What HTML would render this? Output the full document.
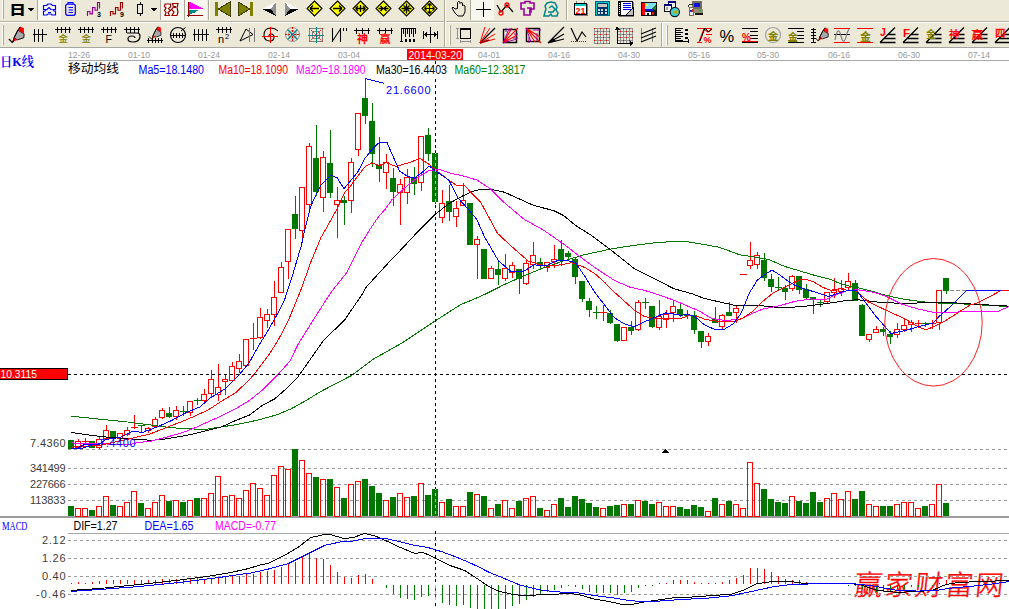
<!DOCTYPE html>
<html lang="zh"><head><meta charset="utf-8"><title>日K线</title>
<style>
html,body{margin:0;padding:0;background:#fff;overflow:hidden}
svg{display:block}
text{white-space:pre}
</style></head><body>
<svg width="1009" height="609" viewBox="0 0 1009 609">
<rect width="1009" height="609" fill="#ffffff"/>
<text x="854" y="595.5" fill="#ff0000" stroke="#ff0000" stroke-width="0.4" font-size="28" font-weight="300" font-family="'Liberation Sans','Noto Sans CJK SC',sans-serif" textLength="149" lengthAdjust="spacing" transform="skewX(-6) translate(62,0)">赢家财富网</text>
<g shape-rendering="crispEdges" fill="none" stroke-width="1">
<rect x="68" y="60" width="941" height="1" fill="#a8a8a8"/>
<line x1="68" y1="449.5" x2="1009" y2="449.5" stroke="#9a9a9a" stroke-dasharray="3 3"/>
<line x1="68" y1="468.5" x2="1009" y2="468.5" stroke="#9a9a9a" stroke-dasharray="3 3"/>
<line x1="68" y1="484.5" x2="1009" y2="484.5" stroke="#9a9a9a" stroke-dasharray="3 3"/>
<line x1="68" y1="500.5" x2="1009" y2="500.5" stroke="#9a9a9a" stroke-dasharray="3 3"/>
<line x1="68" y1="540.5" x2="1009" y2="540.5" stroke="#9a9a9a" stroke-dasharray="3 3"/>
<line x1="68" y1="558.5" x2="1009" y2="558.5" stroke="#9a9a9a" stroke-dasharray="3 3"/>
<line x1="68" y1="576.5" x2="1009" y2="576.5" stroke="#9a9a9a" stroke-dasharray="3 3"/>
<line x1="68" y1="594.5" x2="1009" y2="594.5" stroke="#9a9a9a" stroke-dasharray="3 3"/>
<rect x="0" y="516" width="1009" height="2" fill="#9c9c9c"/>
<rect x="68" y="533" width="941" height="1" fill="#a8a8a8"/>
<rect x="68" y="506" width="6" height="10" fill="#007800"/>
<rect x="75.5" y="508.5" width="5" height="8" stroke="#ff0000"/>
<rect x="82.5" y="508.5" width="5" height="8" stroke="#ff0000"/>
<rect x="89" y="510" width="6" height="6" fill="#007800"/>
<rect x="96.5" y="506.5" width="5" height="10" stroke="#ff0000"/>
<rect x="103.5" y="496.5" width="5" height="20" stroke="#ff0000"/>
<rect x="110" y="505" width="6" height="11" fill="#007800"/>
<rect x="117.5" y="506.5" width="5" height="10" stroke="#ff0000"/>
<rect x="124.5" y="502.5" width="5" height="14" stroke="#ff0000"/>
<rect x="131.5" y="491.5" width="5" height="25" stroke="#ff0000"/>
<rect x="138" y="503" width="6" height="13" fill="#007800"/>
<rect x="145.5" y="508.5" width="5" height="8" stroke="#ff0000"/>
<rect x="152.5" y="502.5" width="5" height="14" stroke="#ff0000"/>
<rect x="159.5" y="495.5" width="5" height="21" stroke="#ff0000"/>
<rect x="166" y="501" width="6" height="15" fill="#007800"/>
<rect x="173.5" y="500.5" width="5" height="16" stroke="#ff0000"/>
<rect x="180" y="502" width="6" height="14" fill="#007800"/>
<rect x="187.5" y="500.5" width="5" height="16" stroke="#ff0000"/>
<rect x="194" y="498" width="6" height="18" fill="#007800"/>
<rect x="201.5" y="498.5" width="5" height="18" stroke="#ff0000"/>
<rect x="208.5" y="493.5" width="5" height="23" stroke="#ff0000"/>
<rect x="215.5" y="476.5" width="5" height="40" stroke="#ff0000"/>
<rect x="222.5" y="496.5" width="5" height="20" stroke="#ff0000"/>
<rect x="229.5" y="495.5" width="5" height="21" stroke="#ff0000"/>
<rect x="236.5" y="498.5" width="5" height="18" stroke="#ff0000"/>
<rect x="243.5" y="490.5" width="5" height="26" stroke="#ff0000"/>
<rect x="250.5" y="483.5" width="5" height="33" stroke="#ff0000"/>
<rect x="257.5" y="488.5" width="5" height="28" stroke="#ff0000"/>
<rect x="264.5" y="495.5" width="5" height="21" stroke="#ff0000"/>
<rect x="271.5" y="475.5" width="5" height="41" stroke="#ff0000"/>
<rect x="278.5" y="466.5" width="5" height="50" stroke="#ff0000"/>
<rect x="285.5" y="469.5" width="5" height="47" stroke="#ff0000"/>
<rect x="292" y="449" width="6" height="67" fill="#007800"/>
<rect x="299.5" y="460.5" width="5" height="56" stroke="#ff0000"/>
<rect x="306.5" y="473.5" width="5" height="43" stroke="#ff0000"/>
<rect x="313" y="477" width="6" height="39" fill="#007800"/>
<rect x="320.5" y="479.5" width="5" height="37" stroke="#ff0000"/>
<rect x="327" y="479" width="6" height="37" fill="#007800"/>
<rect x="334.5" y="487.5" width="5" height="29" stroke="#ff0000"/>
<rect x="341" y="498" width="6" height="18" fill="#007800"/>
<rect x="348.5" y="484.5" width="5" height="32" stroke="#ff0000"/>
<rect x="355.5" y="481.5" width="5" height="35" stroke="#ff0000"/>
<rect x="362" y="479" width="6" height="37" fill="#007800"/>
<rect x="369" y="486" width="6" height="30" fill="#007800"/>
<rect x="376" y="493" width="6" height="23" fill="#007800"/>
<rect x="383.5" y="500.5" width="5" height="16" stroke="#ff0000"/>
<rect x="390" y="497" width="6" height="19" fill="#007800"/>
<rect x="397.5" y="493.5" width="5" height="23" stroke="#ff0000"/>
<rect x="404.5" y="497.5" width="5" height="19" stroke="#ff0000"/>
<rect x="411" y="496" width="6" height="20" fill="#007800"/>
<rect x="418.5" y="483.5" width="5" height="33" stroke="#ff0000"/>
<rect x="425" y="495" width="6" height="21" fill="#007800"/>
<rect x="432" y="489" width="6" height="27" fill="#007800"/>
<rect x="439.5" y="502.5" width="5" height="14" stroke="#ff0000"/>
<rect x="446" y="499" width="6" height="17" fill="#007800"/>
<rect x="453.5" y="506.5" width="5" height="10" stroke="#ff0000"/>
<rect x="460.5" y="506.5" width="5" height="10" stroke="#ff0000"/>
<rect x="467" y="492" width="6" height="24" fill="#007800"/>
<rect x="474.5" y="494.5" width="5" height="22" stroke="#ff0000"/>
<rect x="481" y="496" width="6" height="20" fill="#007800"/>
<rect x="488.5" y="508.5" width="5" height="8" stroke="#ff0000"/>
<rect x="495" y="504" width="6" height="12" fill="#007800"/>
<rect x="502.5" y="500.5" width="5" height="16" stroke="#ff0000"/>
<rect x="509.5" y="508.5" width="5" height="8" stroke="#ff0000"/>
<rect x="516" y="501" width="6" height="15" fill="#007800"/>
<rect x="523.5" y="498.5" width="5" height="18" stroke="#ff0000"/>
<rect x="530.5" y="496.5" width="5" height="20" stroke="#ff0000"/>
<rect x="537" y="508" width="6" height="8" fill="#007800"/>
<rect x="544.5" y="510.5" width="5" height="6" stroke="#ff0000"/>
<rect x="551.5" y="504.5" width="5" height="12" stroke="#ff0000"/>
<rect x="558" y="498" width="6" height="18" fill="#007800"/>
<rect x="565" y="507" width="6" height="9" fill="#007800"/>
<rect x="572" y="496" width="6" height="20" fill="#007800"/>
<rect x="579" y="499" width="6" height="17" fill="#007800"/>
<rect x="586" y="503" width="6" height="13" fill="#007800"/>
<rect x="593" y="507" width="6" height="9" fill="#007800"/>
<rect x="600.5" y="508.5" width="5" height="8" stroke="#ff0000"/>
<rect x="607" y="506" width="6" height="10" fill="#007800"/>
<rect x="614" y="505" width="6" height="11" fill="#007800"/>
<rect x="621.5" y="504.5" width="5" height="12" stroke="#ff0000"/>
<rect x="628" y="504" width="6" height="12" fill="#007800"/>
<rect x="635.5" y="500.5" width="5" height="16" stroke="#ff0000"/>
<rect x="642" y="501" width="6" height="15" fill="#007800"/>
<rect x="649" y="504" width="6" height="12" fill="#007800"/>
<rect x="656.5" y="502.5" width="5" height="14" stroke="#ff0000"/>
<rect x="663.5" y="506.5" width="5" height="10" stroke="#ff0000"/>
<rect x="670.5" y="506.5" width="5" height="10" stroke="#ff0000"/>
<rect x="677" y="507" width="6" height="9" fill="#007800"/>
<rect x="684" y="509" width="6" height="7" fill="#007800"/>
<rect x="691" y="505" width="6" height="11" fill="#007800"/>
<rect x="698" y="507" width="6" height="9" fill="#007800"/>
<rect x="705.5" y="511.5" width="5" height="5" stroke="#ff0000"/>
<rect x="712" y="498" width="6" height="18" fill="#007800"/>
<rect x="719.5" y="504.5" width="5" height="12" stroke="#ff0000"/>
<rect x="726" y="501" width="6" height="15" fill="#007800"/>
<rect x="733.5" y="504.5" width="5" height="12" stroke="#ff0000"/>
<rect x="740.5" y="508.5" width="5" height="8" stroke="#ff0000"/>
<rect x="747.5" y="462.5" width="5" height="54" stroke="#ff0000"/>
<rect x="754.5" y="483.5" width="5" height="33" stroke="#ff0000"/>
<rect x="761" y="489" width="6" height="27" fill="#007800"/>
<rect x="768" y="499" width="6" height="17" fill="#007800"/>
<rect x="775" y="502" width="6" height="14" fill="#007800"/>
<rect x="782" y="503" width="6" height="13" fill="#007800"/>
<rect x="789.5" y="496.5" width="5" height="20" stroke="#ff0000"/>
<rect x="796" y="501" width="6" height="15" fill="#007800"/>
<rect x="803" y="503" width="6" height="13" fill="#007800"/>
<rect x="810" y="492" width="6" height="24" fill="#007800"/>
<rect x="817" y="502" width="6" height="14" fill="#007800"/>
<rect x="824.5" y="498.5" width="5" height="18" stroke="#ff0000"/>
<rect x="831.5" y="493.5" width="5" height="23" stroke="#ff0000"/>
<rect x="838.5" y="499.5" width="5" height="17" stroke="#ff0000"/>
<rect x="845.5" y="491.5" width="5" height="25" stroke="#ff0000"/>
<rect x="852" y="499" width="6" height="17" fill="#007800"/>
<rect x="859" y="491" width="6" height="25" fill="#007800"/>
<rect x="866.5" y="504.5" width="5" height="12" stroke="#ff0000"/>
<rect x="873.5" y="506.5" width="5" height="10" stroke="#ff0000"/>
<rect x="880" y="506" width="6" height="10" fill="#007800"/>
<rect x="887" y="506" width="6" height="10" fill="#007800"/>
<rect x="894.5" y="504.5" width="5" height="12" stroke="#ff0000"/>
<rect x="901.5" y="502.5" width="5" height="14" stroke="#ff0000"/>
<rect x="908.5" y="502.5" width="5" height="14" stroke="#ff0000"/>
<rect x="915.5" y="508.5" width="5" height="8" stroke="#ff0000"/>
<rect x="922" y="506" width="6" height="10" fill="#007800"/>
<rect x="929.5" y="504.5" width="5" height="12" stroke="#ff0000"/>
<rect x="936.5" y="484.5" width="5" height="32" stroke="#ff0000"/>
<rect x="943" y="503" width="6" height="13" fill="#007800"/>
<rect x="68" y="440" width="6" height="9" fill="#007800"/>
<rect x="78" y="439" width="1" height="2" fill="#ff0000"/>
<rect x="78" y="448" width="1" height="1" fill="#ff0000"/>
<rect x="75.5" y="441.5" width="5" height="6" stroke="#ff0000"/>
<rect x="85" y="438" width="1" height="5" fill="#ff0000"/>
<rect x="82" y="441" width="7" height="1" fill="#ff0000"/>
<rect x="89" y="441" width="6" height="7" fill="#007800"/>
<rect x="99" y="437" width="1" height="2" fill="#ff0000"/>
<rect x="99" y="448" width="1" height="1" fill="#ff0000"/>
<rect x="96.5" y="439.5" width="5" height="8" stroke="#ff0000"/>
<rect x="106" y="425" width="1" height="5" fill="#ff0000"/>
<rect x="103.5" y="430.5" width="5" height="8" stroke="#ff0000"/>
<rect x="110" y="431" width="6" height="8" fill="#007800"/>
<rect x="120" y="439" width="1" height="1" fill="#ff0000"/>
<rect x="117.5" y="433.5" width="5" height="5" stroke="#ff0000"/>
<rect x="127" y="427" width="1" height="3" fill="#ff0000"/>
<rect x="127" y="435" width="1" height="1" fill="#ff0000"/>
<rect x="124.5" y="430.5" width="5" height="4" stroke="#ff0000"/>
<rect x="134" y="415" width="1" height="14" fill="#ff0000"/>
<rect x="131" y="427" width="7" height="1" fill="#ff0000"/>
<rect x="141" y="425" width="1" height="7" fill="#007800"/>
<rect x="138" y="425" width="7" height="1" fill="#007800"/>
<rect x="148" y="427" width="1" height="1" fill="#ff0000"/>
<rect x="148" y="431" width="1" height="2" fill="#ff0000"/>
<rect x="145.5" y="428.5" width="5" height="2" stroke="#ff0000"/>
<rect x="155" y="417" width="1" height="2" fill="#ff0000"/>
<rect x="152.5" y="419.5" width="5" height="7" stroke="#ff0000"/>
<rect x="162" y="408" width="1" height="2" fill="#ff0000"/>
<rect x="162" y="418" width="1" height="1" fill="#ff0000"/>
<rect x="159.5" y="410.5" width="5" height="7" stroke="#ff0000"/>
<rect x="169" y="407" width="1" height="11" fill="#007800"/>
<rect x="166" y="413" width="6" height="4" fill="#007800"/>
<rect x="176" y="406" width="1" height="4" fill="#ff0000"/>
<rect x="176" y="417" width="1" height="3" fill="#ff0000"/>
<rect x="173.5" y="410.5" width="5" height="6" stroke="#ff0000"/>
<rect x="183" y="406" width="1" height="10" fill="#007800"/>
<rect x="180" y="411" width="7" height="1" fill="#007800"/>
<rect x="190" y="413" width="1" height="3" fill="#ff0000"/>
<rect x="187.5" y="401.5" width="5" height="11" stroke="#ff0000"/>
<rect x="197" y="398" width="1" height="7" fill="#007800"/>
<rect x="194" y="400" width="7" height="1" fill="#007800"/>
<rect x="204" y="389" width="1" height="5" fill="#ff0000"/>
<rect x="204" y="401" width="1" height="2" fill="#ff0000"/>
<rect x="201.5" y="394.5" width="5" height="6" stroke="#ff0000"/>
<rect x="211" y="370" width="1" height="9" fill="#ff0000"/>
<rect x="211" y="394" width="1" height="3" fill="#ff0000"/>
<rect x="208.5" y="379.5" width="5" height="14" stroke="#ff0000"/>
<rect x="218" y="364" width="1" height="23" fill="#ff0000"/>
<rect x="218" y="395" width="1" height="6" fill="#ff0000"/>
<rect x="215.5" y="387.5" width="5" height="7" stroke="#ff0000"/>
<rect x="225" y="375" width="1" height="4" fill="#ff0000"/>
<rect x="225" y="382" width="1" height="13" fill="#ff0000"/>
<rect x="222.5" y="379.5" width="5" height="2" stroke="#ff0000"/>
<rect x="232" y="362" width="1" height="4" fill="#ff0000"/>
<rect x="232" y="381" width="1" height="1" fill="#ff0000"/>
<rect x="229.5" y="366.5" width="5" height="14" stroke="#ff0000"/>
<rect x="239" y="354" width="1" height="7" fill="#ff0000"/>
<rect x="239" y="369" width="1" height="4" fill="#ff0000"/>
<rect x="236.5" y="361.5" width="5" height="7" stroke="#ff0000"/>
<rect x="243.5" y="339.5" width="5" height="26" stroke="#ff0000"/>
<rect x="253" y="323" width="1" height="27" fill="#ff0000"/>
<rect x="250" y="338" width="7" height="1" fill="#ff0000"/>
<rect x="260" y="308" width="1" height="9" fill="#ff0000"/>
<rect x="260" y="338" width="1" height="1" fill="#ff0000"/>
<rect x="257.5" y="317.5" width="5" height="20" stroke="#ff0000"/>
<rect x="267" y="309" width="1" height="5" fill="#ff0000"/>
<rect x="267" y="321" width="1" height="7" fill="#ff0000"/>
<rect x="264.5" y="314.5" width="5" height="6" stroke="#ff0000"/>
<rect x="274" y="281" width="1" height="16" fill="#ff0000"/>
<rect x="274" y="315" width="1" height="11" fill="#ff0000"/>
<rect x="271.5" y="297.5" width="5" height="17" stroke="#ff0000"/>
<rect x="281" y="262" width="1" height="5" fill="#ff0000"/>
<rect x="278.5" y="267.5" width="5" height="25" stroke="#ff0000"/>
<rect x="288" y="262" width="1" height="17" fill="#ff0000"/>
<rect x="285.5" y="229.5" width="5" height="32" stroke="#ff0000"/>
<rect x="295" y="196" width="1" height="43" fill="#007800"/>
<rect x="292" y="214" width="6" height="15" fill="#007800"/>
<rect x="302" y="231" width="1" height="10" fill="#ff0000"/>
<rect x="299.5" y="187.5" width="5" height="43" stroke="#ff0000"/>
<rect x="309" y="143" width="1" height="3" fill="#ff0000"/>
<rect x="309" y="205" width="1" height="6" fill="#ff0000"/>
<rect x="306.5" y="146.5" width="5" height="58" stroke="#ff0000"/>
<rect x="316" y="125" width="1" height="71" fill="#007800"/>
<rect x="313" y="158" width="6" height="34" fill="#007800"/>
<rect x="323" y="151" width="1" height="6" fill="#ff0000"/>
<rect x="323" y="198" width="1" height="14" fill="#ff0000"/>
<rect x="320.5" y="157.5" width="5" height="40" stroke="#ff0000"/>
<rect x="330" y="130" width="1" height="68" fill="#007800"/>
<rect x="327" y="163" width="6" height="30" fill="#007800"/>
<rect x="337" y="187" width="1" height="13" fill="#ff0000"/>
<rect x="337" y="205" width="1" height="33" fill="#ff0000"/>
<rect x="334.5" y="200.5" width="5" height="4" stroke="#ff0000"/>
<rect x="344" y="196" width="1" height="29" fill="#007800"/>
<rect x="341" y="200" width="6" height="3" fill="#007800"/>
<rect x="351" y="158" width="1" height="4" fill="#ff0000"/>
<rect x="351" y="201" width="1" height="12" fill="#ff0000"/>
<rect x="348.5" y="162.5" width="5" height="38" stroke="#ff0000"/>
<rect x="358" y="150" width="1" height="6" fill="#ff0000"/>
<rect x="355.5" y="113.5" width="5" height="36" stroke="#ff0000"/>
<rect x="365" y="78" width="1" height="46" fill="#007800"/>
<rect x="362" y="98" width="6" height="18" fill="#007800"/>
<rect x="372" y="103" width="1" height="64" fill="#007800"/>
<rect x="369" y="121" width="6" height="33" fill="#007800"/>
<rect x="379" y="137" width="1" height="45" fill="#007800"/>
<rect x="376" y="165" width="6" height="4" fill="#007800"/>
<rect x="386" y="154" width="1" height="8" fill="#ff0000"/>
<rect x="386" y="173" width="1" height="16" fill="#ff0000"/>
<rect x="383.5" y="162.5" width="5" height="10" stroke="#ff0000"/>
<rect x="393" y="168" width="1" height="38" fill="#007800"/>
<rect x="390" y="178" width="6" height="14" fill="#007800"/>
<rect x="400" y="179" width="1" height="5" fill="#ff0000"/>
<rect x="400" y="193" width="1" height="32" fill="#ff0000"/>
<rect x="397.5" y="184.5" width="5" height="8" stroke="#ff0000"/>
<rect x="407" y="169" width="1" height="8" fill="#ff0000"/>
<rect x="407" y="193" width="1" height="11" fill="#ff0000"/>
<rect x="404.5" y="177.5" width="5" height="15" stroke="#ff0000"/>
<rect x="414" y="167" width="1" height="28" fill="#007800"/>
<rect x="411" y="177" width="6" height="7" fill="#007800"/>
<rect x="421" y="183" width="1" height="8" fill="#ff0000"/>
<rect x="418.5" y="136.5" width="5" height="46" stroke="#ff0000"/>
<rect x="428" y="128" width="1" height="33" fill="#007800"/>
<rect x="425" y="135" width="6" height="19" fill="#007800"/>
<rect x="435" y="150" width="1" height="54" fill="#007800"/>
<rect x="432" y="153" width="6" height="49" fill="#007800"/>
<rect x="442" y="190" width="1" height="13" fill="#ff0000"/>
<rect x="442" y="218" width="1" height="5" fill="#ff0000"/>
<rect x="439.5" y="203.5" width="5" height="14" stroke="#ff0000"/>
<rect x="449" y="185" width="1" height="36" fill="#007800"/>
<rect x="446" y="201" width="6" height="11" fill="#007800"/>
<rect x="456" y="201" width="1" height="7" fill="#ff0000"/>
<rect x="456" y="217" width="1" height="10" fill="#ff0000"/>
<rect x="453.5" y="208.5" width="5" height="8" stroke="#ff0000"/>
<rect x="463" y="183" width="1" height="17" fill="#ff0000"/>
<rect x="460.5" y="200.5" width="5" height="5" stroke="#ff0000"/>
<rect x="467" y="203" width="6" height="42" fill="#007800"/>
<rect x="477" y="236" width="1" height="3" fill="#ff0000"/>
<rect x="477" y="245" width="1" height="34" fill="#ff0000"/>
<rect x="474.5" y="239.5" width="5" height="5" stroke="#ff0000"/>
<rect x="481" y="249" width="6" height="30" fill="#007800"/>
<rect x="491" y="266" width="1" height="2" fill="#ff0000"/>
<rect x="488.5" y="268.5" width="5" height="10" stroke="#ff0000"/>
<rect x="498" y="262" width="1" height="23" fill="#007800"/>
<rect x="495" y="269" width="6" height="6" fill="#007800"/>
<rect x="505" y="254" width="1" height="14" fill="#ff0000"/>
<rect x="505" y="279" width="1" height="2" fill="#ff0000"/>
<rect x="502.5" y="268.5" width="5" height="10" stroke="#ff0000"/>
<rect x="512" y="262" width="1" height="3" fill="#ff0000"/>
<rect x="512" y="273" width="1" height="5" fill="#ff0000"/>
<rect x="509.5" y="265.5" width="5" height="7" stroke="#ff0000"/>
<rect x="519" y="269" width="1" height="25" fill="#007800"/>
<rect x="516" y="269" width="6" height="10" fill="#007800"/>
<rect x="526" y="260" width="1" height="3" fill="#ff0000"/>
<rect x="526" y="284" width="1" height="1" fill="#ff0000"/>
<rect x="523.5" y="263.5" width="5" height="20" stroke="#ff0000"/>
<rect x="533" y="242" width="1" height="13" fill="#ff0000"/>
<rect x="533" y="265" width="1" height="4" fill="#ff0000"/>
<rect x="530.5" y="255.5" width="5" height="9" stroke="#ff0000"/>
<rect x="540" y="258" width="1" height="12" fill="#007800"/>
<rect x="537" y="262" width="6" height="4" fill="#007800"/>
<rect x="547" y="268" width="1" height="4" fill="#ff0000"/>
<rect x="544.5" y="262.5" width="5" height="5" stroke="#ff0000"/>
<rect x="554" y="245" width="1" height="14" fill="#ff0000"/>
<rect x="554" y="262" width="1" height="6" fill="#ff0000"/>
<rect x="551.5" y="259.5" width="5" height="2" stroke="#ff0000"/>
<rect x="561" y="240" width="1" height="26" fill="#007800"/>
<rect x="558" y="249" width="6" height="11" fill="#007800"/>
<rect x="568" y="251" width="1" height="8" fill="#007800"/>
<rect x="565" y="253" width="6" height="4" fill="#007800"/>
<rect x="575" y="258" width="1" height="26" fill="#007800"/>
<rect x="572" y="259" width="6" height="18" fill="#007800"/>
<rect x="582" y="281" width="1" height="21" fill="#007800"/>
<rect x="579" y="281" width="6" height="18" fill="#007800"/>
<rect x="589" y="298" width="1" height="19" fill="#007800"/>
<rect x="586" y="301" width="6" height="9" fill="#007800"/>
<rect x="596" y="306" width="1" height="13" fill="#007800"/>
<rect x="593" y="312" width="7" height="1" fill="#007800"/>
<rect x="603" y="305" width="1" height="16" fill="#ff0000"/>
<rect x="600" y="312" width="7" height="1" fill="#ff0000"/>
<rect x="610" y="310" width="1" height="14" fill="#007800"/>
<rect x="607" y="313" width="6" height="10" fill="#007800"/>
<rect x="617" y="324" width="1" height="18" fill="#007800"/>
<rect x="614" y="324" width="6" height="17" fill="#007800"/>
<rect x="621.5" y="327.5" width="5" height="13" stroke="#ff0000"/>
<rect x="631" y="321" width="1" height="14" fill="#007800"/>
<rect x="628" y="327" width="6" height="4" fill="#007800"/>
<rect x="638" y="300" width="1" height="2" fill="#ff0000"/>
<rect x="638" y="330" width="1" height="1" fill="#ff0000"/>
<rect x="635.5" y="302.5" width="5" height="27" stroke="#ff0000"/>
<rect x="645" y="298" width="1" height="11" fill="#007800"/>
<rect x="642" y="302" width="7" height="1" fill="#007800"/>
<rect x="652" y="306" width="1" height="22" fill="#007800"/>
<rect x="649" y="306" width="6" height="21" fill="#007800"/>
<rect x="659" y="300" width="1" height="16" fill="#ff0000"/>
<rect x="659" y="328" width="1" height="2" fill="#ff0000"/>
<rect x="656.5" y="316.5" width="5" height="11" stroke="#ff0000"/>
<rect x="666" y="310" width="1" height="4" fill="#ff0000"/>
<rect x="666" y="320" width="1" height="8" fill="#ff0000"/>
<rect x="663.5" y="314.5" width="5" height="5" stroke="#ff0000"/>
<rect x="673" y="301" width="1" height="5" fill="#ff0000"/>
<rect x="673" y="313" width="1" height="9" fill="#ff0000"/>
<rect x="670.5" y="306.5" width="5" height="6" stroke="#ff0000"/>
<rect x="680" y="303" width="1" height="14" fill="#007800"/>
<rect x="677" y="309" width="6" height="6" fill="#007800"/>
<rect x="687" y="310" width="1" height="9" fill="#007800"/>
<rect x="684" y="314" width="6" height="2" fill="#007800"/>
<rect x="694" y="311" width="1" height="23" fill="#007800"/>
<rect x="691" y="315" width="6" height="15" fill="#007800"/>
<rect x="701" y="331" width="1" height="17" fill="#007800"/>
<rect x="698" y="331" width="6" height="11" fill="#007800"/>
<rect x="708" y="333" width="1" height="3" fill="#ff0000"/>
<rect x="708" y="342" width="1" height="4" fill="#ff0000"/>
<rect x="705.5" y="336.5" width="5" height="5" stroke="#ff0000"/>
<rect x="715" y="307" width="1" height="16" fill="#007800"/>
<rect x="712" y="319" width="6" height="4" fill="#007800"/>
<rect x="722" y="314" width="1" height="1" fill="#ff0000"/>
<rect x="722" y="327" width="1" height="3" fill="#ff0000"/>
<rect x="719.5" y="315.5" width="5" height="11" stroke="#ff0000"/>
<rect x="729" y="302" width="1" height="14" fill="#007800"/>
<rect x="726" y="312" width="6" height="4" fill="#007800"/>
<rect x="736" y="306" width="1" height="2" fill="#ff0000"/>
<rect x="736" y="313" width="1" height="10" fill="#ff0000"/>
<rect x="733.5" y="308.5" width="5" height="4" stroke="#ff0000"/>
<rect x="740" y="274" width="7" height="1" fill="#ff0000"/>
<rect x="750" y="242" width="1" height="18" fill="#ff0000"/>
<rect x="750" y="266" width="1" height="3" fill="#ff0000"/>
<rect x="747.5" y="260.5" width="5" height="5" stroke="#ff0000"/>
<rect x="757" y="252" width="1" height="3" fill="#ff0000"/>
<rect x="757" y="265" width="1" height="4" fill="#ff0000"/>
<rect x="754.5" y="255.5" width="5" height="9" stroke="#ff0000"/>
<rect x="764" y="253" width="1" height="28" fill="#007800"/>
<rect x="761" y="260" width="6" height="18" fill="#007800"/>
<rect x="771" y="274" width="1" height="18" fill="#007800"/>
<rect x="768" y="279" width="6" height="8" fill="#007800"/>
<rect x="778" y="277" width="1" height="14" fill="#007800"/>
<rect x="775" y="287" width="7" height="1" fill="#007800"/>
<rect x="785" y="285" width="1" height="15" fill="#007800"/>
<rect x="782" y="288" width="6" height="4" fill="#007800"/>
<rect x="792" y="275" width="1" height="1" fill="#ff0000"/>
<rect x="792" y="289" width="1" height="2" fill="#ff0000"/>
<rect x="789.5" y="276.5" width="5" height="12" stroke="#ff0000"/>
<rect x="799" y="276" width="1" height="18" fill="#007800"/>
<rect x="796" y="276" width="6" height="14" fill="#007800"/>
<rect x="806" y="284" width="1" height="16" fill="#007800"/>
<rect x="803" y="289" width="6" height="9" fill="#007800"/>
<rect x="813" y="297" width="1" height="17" fill="#007800"/>
<rect x="810" y="297" width="6" height="3" fill="#007800"/>
<rect x="820" y="299" width="1" height="8" fill="#007800"/>
<rect x="817" y="302" width="7" height="1" fill="#007800"/>
<rect x="827" y="302" width="1" height="2" fill="#ff0000"/>
<rect x="824.5" y="292.5" width="5" height="9" stroke="#ff0000"/>
<rect x="834" y="278" width="1" height="12" fill="#ff0000"/>
<rect x="834" y="293" width="1" height="5" fill="#ff0000"/>
<rect x="831.5" y="290.5" width="5" height="2" stroke="#ff0000"/>
<rect x="841" y="280" width="1" height="8" fill="#ff0000"/>
<rect x="841" y="292" width="1" height="4" fill="#ff0000"/>
<rect x="838.5" y="288.5" width="5" height="3" stroke="#ff0000"/>
<rect x="848" y="273" width="1" height="8" fill="#ff0000"/>
<rect x="848" y="288" width="1" height="3" fill="#ff0000"/>
<rect x="845.5" y="281.5" width="5" height="6" stroke="#ff0000"/>
<rect x="855" y="280" width="1" height="21" fill="#007800"/>
<rect x="852" y="283" width="6" height="18" fill="#007800"/>
<rect x="862" y="304" width="1" height="32" fill="#007800"/>
<rect x="859" y="305" width="6" height="31" fill="#007800"/>
<rect x="869" y="340" width="1" height="2" fill="#ff0000"/>
<rect x="866.5" y="334.5" width="5" height="5" stroke="#ff0000"/>
<rect x="876" y="326" width="1" height="3" fill="#ff0000"/>
<rect x="873.5" y="329.5" width="5" height="3" stroke="#ff0000"/>
<rect x="883" y="327" width="1" height="9" fill="#007800"/>
<rect x="880" y="329" width="6" height="3" fill="#007800"/>
<rect x="890" y="331" width="1" height="13" fill="#007800"/>
<rect x="887" y="334" width="6" height="3" fill="#007800"/>
<rect x="897" y="323" width="1" height="6" fill="#ff0000"/>
<rect x="897" y="335" width="1" height="3" fill="#ff0000"/>
<rect x="894.5" y="329.5" width="5" height="5" stroke="#ff0000"/>
<rect x="904" y="319" width="1" height="6" fill="#ff0000"/>
<rect x="904" y="330" width="1" height="2" fill="#ff0000"/>
<rect x="901.5" y="325.5" width="5" height="4" stroke="#ff0000"/>
<rect x="911" y="320" width="1" height="2" fill="#ff0000"/>
<rect x="911" y="325" width="1" height="7" fill="#ff0000"/>
<rect x="908.5" y="322.5" width="5" height="2" stroke="#ff0000"/>
<rect x="918" y="320" width="1" height="8" fill="#ff0000"/>
<rect x="915" y="323" width="7" height="1" fill="#ff0000"/>
<rect x="925" y="322" width="1" height="5" fill="#007800"/>
<rect x="922" y="323" width="7" height="1" fill="#007800"/>
<rect x="932" y="320" width="1" height="9" fill="#ff0000"/>
<rect x="929" y="323" width="7" height="1" fill="#ff0000"/>
<rect x="939" y="323" width="1" height="7" fill="#ff0000"/>
<rect x="936.5" y="290.5" width="5" height="32" stroke="#ff0000"/>
<rect x="946" y="278" width="1" height="16" fill="#007800"/>
<rect x="943" y="278" width="6" height="13" fill="#007800"/>
<rect x="71" y="583" width="1" height="1" fill="#ff0000"/>
<rect x="78" y="582" width="1" height="2" fill="#ff0000"/>
<rect x="85" y="583" width="1" height="1" fill="#ff0000"/>
<rect x="92" y="582" width="1" height="2" fill="#ff0000"/>
<rect x="99" y="581" width="1" height="3" fill="#ff0000"/>
<rect x="106" y="580" width="1" height="4" fill="#ff0000"/>
<rect x="113" y="580" width="1" height="4" fill="#ff0000"/>
<rect x="120" y="580" width="1" height="4" fill="#ff0000"/>
<rect x="127" y="580" width="1" height="4" fill="#ff0000"/>
<rect x="134" y="580" width="1" height="4" fill="#ff0000"/>
<rect x="141" y="580" width="1" height="4" fill="#ff0000"/>
<rect x="148" y="580" width="1" height="4" fill="#ff0000"/>
<rect x="155" y="580" width="1" height="4" fill="#ff0000"/>
<rect x="162" y="579" width="1" height="5" fill="#ff0000"/>
<rect x="169" y="579" width="1" height="5" fill="#ff0000"/>
<rect x="176" y="579" width="1" height="5" fill="#ff0000"/>
<rect x="183" y="579" width="1" height="5" fill="#ff0000"/>
<rect x="190" y="579" width="1" height="5" fill="#ff0000"/>
<rect x="197" y="578" width="1" height="6" fill="#ff0000"/>
<rect x="204" y="579" width="1" height="5" fill="#ff0000"/>
<rect x="211" y="578" width="1" height="6" fill="#ff0000"/>
<rect x="218" y="577" width="1" height="7" fill="#ff0000"/>
<rect x="225" y="576" width="1" height="8" fill="#ff0000"/>
<rect x="232" y="576" width="1" height="8" fill="#ff0000"/>
<rect x="239" y="576" width="1" height="8" fill="#ff0000"/>
<rect x="246" y="574" width="1" height="10" fill="#ff0000"/>
<rect x="253" y="574" width="1" height="10" fill="#ff0000"/>
<rect x="260" y="572" width="1" height="12" fill="#ff0000"/>
<rect x="267" y="571" width="1" height="13" fill="#ff0000"/>
<rect x="274" y="570" width="1" height="14" fill="#ff0000"/>
<rect x="281" y="567" width="1" height="17" fill="#ff0000"/>
<rect x="288" y="563" width="1" height="21" fill="#ff0000"/>
<rect x="295" y="562" width="1" height="22" fill="#ff0000"/>
<rect x="302" y="557" width="1" height="27" fill="#ff0000"/>
<rect x="309" y="554" width="1" height="30" fill="#ff0000"/>
<rect x="316" y="558" width="1" height="26" fill="#ff0000"/>
<rect x="323" y="559" width="1" height="25" fill="#ff0000"/>
<rect x="330" y="565" width="1" height="19" fill="#ff0000"/>
<rect x="337" y="572" width="1" height="12" fill="#ff0000"/>
<rect x="344" y="577" width="1" height="7" fill="#ff0000"/>
<rect x="351" y="578" width="1" height="6" fill="#ff0000"/>
<rect x="358" y="575" width="1" height="9" fill="#ff0000"/>
<rect x="365" y="574" width="1" height="10" fill="#ff0000"/>
<rect x="372" y="579" width="1" height="5" fill="#ff0000"/>
<rect x="386" y="585" width="1" height="3" fill="#008000"/>
<rect x="393" y="585" width="1" height="9" fill="#008000"/>
<rect x="400" y="585" width="1" height="13" fill="#008000"/>
<rect x="407" y="585" width="1" height="14" fill="#008000"/>
<rect x="414" y="585" width="1" height="15" fill="#008000"/>
<rect x="421" y="585" width="1" height="12" fill="#008000"/>
<rect x="428" y="585" width="1" height="11" fill="#008000"/>
<rect x="435" y="585" width="1" height="14" fill="#008000"/>
<rect x="442" y="585" width="1" height="18" fill="#008000"/>
<rect x="449" y="585" width="1" height="20" fill="#008000"/>
<rect x="456" y="585" width="1" height="21" fill="#008000"/>
<rect x="463" y="585" width="1" height="20" fill="#008000"/>
<rect x="470" y="585" width="1" height="23" fill="#008000"/>
<rect x="477" y="585" width="1" height="24" fill="#008000"/>
<rect x="484" y="585" width="1" height="24" fill="#008000"/>
<rect x="491" y="585" width="1" height="24" fill="#008000"/>
<rect x="498" y="585" width="1" height="24" fill="#008000"/>
<rect x="505" y="585" width="1" height="24" fill="#008000"/>
<rect x="512" y="585" width="1" height="21" fill="#008000"/>
<rect x="519" y="585" width="1" height="19" fill="#008000"/>
<rect x="526" y="585" width="1" height="15" fill="#008000"/>
<rect x="533" y="585" width="1" height="12" fill="#008000"/>
<rect x="540" y="585" width="1" height="10" fill="#008000"/>
<rect x="547" y="585" width="1" height="7" fill="#008000"/>
<rect x="554" y="585" width="1" height="5" fill="#008000"/>
<rect x="561" y="585" width="1" height="3" fill="#008000"/>
<rect x="568" y="585" width="1" height="1" fill="#008000"/>
<rect x="575" y="585" width="1" height="2" fill="#008000"/>
<rect x="582" y="585" width="1" height="4" fill="#008000"/>
<rect x="589" y="585" width="1" height="7" fill="#008000"/>
<rect x="596" y="585" width="1" height="8" fill="#008000"/>
<rect x="603" y="585" width="1" height="8" fill="#008000"/>
<rect x="610" y="585" width="1" height="8" fill="#008000"/>
<rect x="617" y="585" width="1" height="10" fill="#008000"/>
<rect x="624" y="585" width="1" height="8" fill="#008000"/>
<rect x="631" y="585" width="1" height="7" fill="#008000"/>
<rect x="638" y="585" width="1" height="3" fill="#008000"/>
<rect x="645" y="585" width="1" height="1" fill="#008000"/>
<rect x="652" y="585" width="1" height="1" fill="#008000"/>
<rect x="659" y="583" width="1" height="1" fill="#ff0000"/>
<rect x="666" y="583" width="1" height="1" fill="#ff0000"/>
<rect x="673" y="580" width="1" height="4" fill="#ff0000"/>
<rect x="680" y="580" width="1" height="4" fill="#ff0000"/>
<rect x="687" y="580" width="1" height="4" fill="#ff0000"/>
<rect x="694" y="582" width="1" height="2" fill="#ff0000"/>
<rect x="701" y="583" width="1" height="1" fill="#ff0000"/>
<rect x="708" y="583" width="1" height="1" fill="#ff0000"/>
<rect x="715" y="583" width="1" height="1" fill="#ff0000"/>
<rect x="722" y="582" width="1" height="2" fill="#ff0000"/>
<rect x="729" y="580" width="1" height="4" fill="#ff0000"/>
<rect x="736" y="578" width="1" height="6" fill="#ff0000"/>
<rect x="743" y="575" width="1" height="9" fill="#ff0000"/>
<rect x="750" y="568" width="1" height="16" fill="#ff0000"/>
<rect x="757" y="568" width="1" height="16" fill="#ff0000"/>
<rect x="764" y="569" width="1" height="15" fill="#ff0000"/>
<rect x="771" y="572" width="1" height="12" fill="#ff0000"/>
<rect x="778" y="576" width="1" height="8" fill="#ff0000"/>
<rect x="785" y="579" width="1" height="5" fill="#ff0000"/>
<rect x="792" y="580" width="1" height="4" fill="#ff0000"/>
<rect x="799" y="580" width="1" height="4" fill="#ff0000"/>
<rect x="806" y="582" width="1" height="2" fill="#ff0000"/>
<rect x="813" y="583" width="1" height="1" fill="#ff0000"/>
<rect x="820" y="583" width="1" height="1" fill="#ff0000"/>
<rect x="827" y="583" width="1" height="1" fill="#ff0000"/>
<rect x="848" y="585" width="1" height="1" fill="#008000"/>
<rect x="855" y="585" width="1" height="1" fill="#008000"/>
<rect x="862" y="585" width="1" height="4" fill="#008000"/>
<rect x="869" y="585" width="1" height="6" fill="#008000"/>
<rect x="876" y="585" width="1" height="7" fill="#008000"/>
<rect x="883" y="585" width="1" height="7" fill="#008000"/>
<rect x="890" y="585" width="1" height="6" fill="#008000"/>
<rect x="897" y="585" width="1" height="4" fill="#008000"/>
<rect x="904" y="585" width="1" height="4" fill="#008000"/>
<rect x="911" y="585" width="1" height="2" fill="#008000"/>
<rect x="918" y="585" width="1" height="2" fill="#008000"/>
<rect x="925" y="585" width="1" height="1" fill="#008000"/>
<rect x="932" y="585" width="1" height="1" fill="#008000"/>
<rect x="939" y="583" width="1" height="1" fill="#ff0000"/>
<rect x="946" y="580" width="1" height="4" fill="#ff0000"/>
<polyline points="71,416.2 129.4,422.2 171,427.7 180,428.3 193.9,429 207.8,429 221.6,426.9 235.5,424.8 249.4,422 263.3,418.6 277.1,414.7 291,408.9 304.9,401.2 320,391.9 352.2,375.1 373.9,358.8 402.7,342.6 435.2,320.9 460.5,304.7 471.9,300 484.7,294.4 504.4,284.5 524.2,275.7 543.9,267.8 563.6,260.9 583.3,255 594.7,252.4 614.4,248.4 634.2,245.3 653.9,242.9 673.6,241.5 685.5,241.5 703.2,244.3 719.7,247.4 739.4,254.7 755.2,257.2 769,259.6 784.8,266.5 802.6,271.8 818.3,276.4 830.2,279.3 838.3,282.8 848,285.9 857.8,287.7 871.6,291.1 885.5,295.3 899.4,298.4 913.3,300.6 927.1,302.2 941,303.2 954.9,303.6 970,304.3 1009,306.6" stroke="#007800"/>
<polyline points="71,432.5 100.1,436.5 122.4,438.3 137.6,439.4 150,440.2 160,439.8 180,436.6 193.9,433.8 207.8,430.4 221.6,426.9 235.5,420.6 249.4,415.1 263.3,404.7 274.4,399.1 285.5,389.4 297.9,376.9 302.8,370 323.3,340.8 345,319.5 362,294.5 366.6,286.6 388.3,263 402.6,248 419.4,230 435.1,214.6 448.9,203.5 462.7,195.9 472.5,191.4 480.8,189.3 490.6,189.3 504.4,192.2 534,205.6 553.8,210.6 563.6,215.5 575.5,225.4 590.8,235 614.4,252.8 634.2,268.5 653.9,278.4 673.6,288.6 693.3,294.2 703.2,298.1 719.7,302 735.5,305.5 759.2,305.5 782.8,307.9 802.6,306.5 818.3,304.6 830.2,303 843.9,300.9 857.8,299.7 878.6,302.2 899.4,303.3 913.3,303.3 927.1,302.2 947.9,302.2 963.2,303.6 1009,306.1" stroke="#000000"/>
<polyline points="71,442.3 77.8,443.9 131.4,444.1 137.6,442.5 150,441.4 180,433.5 193.9,428.3 207.8,422 221.6,415.8 235.5,408.9 249.4,400.5 263.3,389.4 277.1,375.6 290,361 298,344.4 316.1,315.5 330.9,292.5 346.6,272.8 362,242.3 369.6,229.9 377.5,218 385,209.4 391.8,199.9 405.6,187.1 419.4,176.3 429.2,170.4 439,169.4 450.9,173.3 464.6,176.3 476.8,180 490.6,188.9 504.4,202.7 524.2,219.4 543.9,230.3 563.6,244.1 575,252.8 594.7,267.5 614.4,280.4 630.2,287.3 644,290.2 657.8,294.6 673.6,300.1 693.3,308.5 700,311.5 711.8,318.5 723.7,320.3 739.4,319.7 751.3,313.8 763.1,308.9 778.9,305.9 794.7,301.4 810.5,299 826.2,299.4 830,297.4 838,294 848,290.4 857.8,289.8 871.6,291.8 885.5,296 902.2,304.3 918.8,309.2 932.7,312.2 954.9,312.2 968,311.5 997.5,311.5 1009,306.6" stroke="#ff00ff"/>
<polyline points="71,447.2 101.6,445 129.4,438.8 150,434 171,425.7 180,422.4 193.9,416.5 207.8,410.2 221.6,401.2 235.5,392.9 249.4,379.7 256.3,371.4 268.7,355.1 278.6,339.4 288.6,319.9 301.4,288.6 311.2,261 321,237.4 325.4,229.9 336.2,210.4 345,192 350,187 354.8,180 364.7,167 371.6,162.9 379.4,165.5 386.3,162.5 395.7,166.4 409.5,162.5 420.4,158.5 429.2,164.4 436.1,170.4 448.9,180.2 456.8,185.7 464.6,185.7 472.5,194 480,201.3 484.7,209.6 497.5,233.3 512.3,247.1 528.1,260.9 543.9,265.8 557.7,265.2 571.5,262.8 584.9,267.5 594.7,273.5 604.6,282.3 614.4,292.2 624.3,301.1 634.2,310 644,316.3 653.9,318.8 665.7,318.8 681.5,318.2 689.4,315.5 697.3,316.3 705.2,319.4 719.7,321.7 735.5,321.1 743.4,317.8 753.3,310.9 763.1,301 773,293.1 782.8,288.2 792.7,283.3 800.6,279.7 806.5,279.3 814.4,282.3 822.3,287.2 830.2,290.2 840,288.8 848,290.4 856.4,291.1 868.9,302.2 885.5,309.9 904.9,318.9 918.8,327.2 925.7,329.7 932.7,327.2 943.8,321.7 954.9,314.7 970,305 977.8,302.9 1001,290.6 1009,290.6" stroke="#ff0000"/>
<polyline points="71,449 82,448.5 94.7,444.2 100,443.9 105.8,439.5 119.7,437.5 132,431.5 143,432.3 157,427 171,420.8 185,413.2 200,406.9 209.7,398.4 225.4,388.6 239.2,374.8 249,363 258.9,345.3 268.7,329.5 278.6,311.8 284.5,300 291.5,278.7 301.4,245.3 304.7,229.9 310.6,206.5 320.4,185.8 331.3,175 337.2,177.9 344,188.7 357.8,172 364.7,158.6 372.6,148.7 379.4,142.4 386.9,142.2 391.8,153.6 399.7,171.3 407.6,176.3 414.4,178.2 422.3,172.3 429.2,166 436.1,171.3 448.9,180.2 457.8,197.9 468.6,209.7 476.8,219.4 484.7,237.2 498.5,260.9 511.4,271.7 524.2,271.1 534,264.8 545.9,265.8 557.7,260.5 567.6,260.5 575.5,262.8 584.9,276.4 594.7,292.2 604.6,305 614.4,317.8 624.3,323.8 634.2,326.7 642.1,322.8 653.9,317.8 665.7,312.9 673.6,313.9 681.5,315.5 687.4,313.9 695.3,316.9 703.2,323.8 707.9,326.6 715.8,329.6 723.7,329.6 733.5,323.7 741.4,312.8 749.3,293.1 757.2,280.3 765.1,274.4 772,270 778.9,274.4 786.8,280.3 794.7,285.2 802.6,288.2 810.5,290.7 818.3,293.1 828.2,296.5 838.3,293.2 848,290.4 856.4,290.4 864.7,301.5 875.8,316.1 891,333.5 904.9,330.7 918.8,326.5 932.7,323.1 939.6,316.1 952.1,305 966.7,290.5 1001,290.5" stroke="#0000ff"/>
<line x1="950" y1="290.5" x2="967" y2="290.5" stroke="#8a8a8a" stroke-dasharray="4 2"/>
<polyline points="70.9,590.4 99.6,588.5 139.3,584.5 178.9,580.1 208.7,576.2 228.5,573 248.3,568.6 260,565 268.2,563.4 284.2,555.5 297.9,547.5 310.4,537.7 325.2,534.3 332,535 343.5,538.4 352.6,537.7 365.1,533.4 375.4,536.1 386.8,541.1 400.4,547.5 414.1,553.2 423.2,552.7 430.1,555.5 439.2,560 450.6,565.7 464.3,570.3 470,574 476.8,578.3 488.2,586.2 499.6,591.5 515.6,594.9 527,595.4 538.4,594.9 549.8,594.9 568,593.1 579.4,594.7 593.1,598.8 606.8,601.1 620.4,604 634.1,604 645.5,601.7 659.2,599.9 675.2,597.6 688.8,597.2 700,596.5 709,595.8 731.1,594.2 743.7,590.1 756.4,583.8 772.2,581.6 791.2,581.6 807,583.8 848.1,583.2 860.7,584.8 876.5,590.1 895.5,592.3 917.6,591.7 933.4,590.1 942.9,585.4 952.4,583.2 974.5,581.6 1009,580.6" stroke="#000000"/>
<polyline points="70.9,591.4 99.6,589.5 139.3,586.5 178.9,582.5 218.6,577.6 238.4,574.6 250,573.2 268.2,569.1 288.8,563.4 307,554.3 325.2,545.2 341.2,541.8 352.6,541.1 366.3,538.4 386.8,538.8 400.4,541.8 414.1,545.2 427.8,547.5 441.5,551.6 455.2,556.6 468.8,562.3 480,567.6 488.2,571.9 506.5,579.4 520.1,585.1 538.4,589.7 556.6,591.9 577.1,592.6 593.1,595.4 611.3,597.6 629.6,600.6 643.2,601.7 659.2,601.1 675.2,599.9 688.8,599.2 700,598.3 709,598 731.1,595.8 753.2,591.1 772.2,587 791.2,584.4 816.5,583.8 854.4,583.8 873.4,586 895.5,590.1 917.6,591.1 936.6,590.4 952.4,587.9 974.5,586 993.5,583.8 1009,581.6" stroke="#0000ff"/>
<polyline points="365.5,78.5 384.5,83.5" stroke="#0000ff"/>
<polyline points="78.5,447.5 84.5,444.5 99.5,444.5" stroke="#0000ff"/>
<line x1="435.5" y1="61" x2="435.5" y2="516" stroke="#000" stroke-dasharray="3 3"/>
<line x1="435.5" y1="531" x2="435.5" y2="609" stroke="#000" stroke-dasharray="3 3"/>
<line x1="435.5" y1="153" x2="435.5" y2="202" stroke="#ff87ff" stroke-dasharray="3 3" stroke-dashoffset="2"/>
<line x1="435.5" y1="489" x2="435.5" y2="516" stroke="#ff87ff" stroke-dasharray="3 3" stroke-dashoffset="2"/>
<line x1="435.5" y1="585" x2="435.5" y2="600" stroke="#ff87ff" stroke-dasharray="3 3"/>
<line x1="68" y1="374.5" x2="1009" y2="374.5" stroke="#000" stroke-dasharray="3 3"/>
<rect x="0" y="368" width="68" height="12" fill="#ff0000"/>
<rect x="0" y="368" width="68" height="1" fill="#000"/><rect x="0" y="379" width="68" height="1" fill="#000"/><rect x="67" y="368" width="1" height="12" fill="#000"/>
<rect x="407" y="49" width="56" height="11" fill="#ff0000"/>
<polygon points="661,453 669,453 665,449" fill="#000"/>
</g>
<ellipse cx="933.5" cy="322.3" rx="48.7" ry="63.8" fill="none" stroke="#ff2020" stroke-width="1"/>
<text x="68" y="58" fill="#999999" font-size="8.6" font-family="'Liberation Sans','Noto Sans CJK SC',sans-serif" >12-26</text>
<text x="128" y="58" fill="#999999" font-size="8.6" font-family="'Liberation Sans','Noto Sans CJK SC',sans-serif" >01-10</text>
<text x="198" y="58" fill="#999999" font-size="8.6" font-family="'Liberation Sans','Noto Sans CJK SC',sans-serif" >01-24</text>
<text x="268" y="58" fill="#999999" font-size="8.6" font-family="'Liberation Sans','Noto Sans CJK SC',sans-serif" >02-14</text>
<text x="338" y="58" fill="#999999" font-size="8.6" font-family="'Liberation Sans','Noto Sans CJK SC',sans-serif" >03-04</text>
<text x="478" y="58" fill="#999999" font-size="8.6" font-family="'Liberation Sans','Noto Sans CJK SC',sans-serif" >04-01</text>
<text x="548" y="58" fill="#999999" font-size="8.6" font-family="'Liberation Sans','Noto Sans CJK SC',sans-serif" >04-16</text>
<text x="618" y="58" fill="#999999" font-size="8.6" font-family="'Liberation Sans','Noto Sans CJK SC',sans-serif" >04-30</text>
<text x="688" y="58" fill="#999999" font-size="8.6" font-family="'Liberation Sans','Noto Sans CJK SC',sans-serif" >05-16</text>
<text x="757" y="58" fill="#999999" font-size="8.6" font-family="'Liberation Sans','Noto Sans CJK SC',sans-serif" >05-30</text>
<text x="828" y="58" fill="#999999" font-size="8.6" font-family="'Liberation Sans','Noto Sans CJK SC',sans-serif" >06-16</text>
<text x="898" y="58" fill="#999999" font-size="8.6" font-family="'Liberation Sans','Noto Sans CJK SC',sans-serif" >06-30</text>
<text x="968" y="58" fill="#999999" font-size="8.6" font-family="'Liberation Sans','Noto Sans CJK SC',sans-serif" >07-14</text>
<text x="408.5" y="58.5" fill="#ffffff" font-size="11" font-family="'Liberation Sans','Noto Sans CJK SC',sans-serif" textLength="53.5" lengthAdjust="spacingAndGlyphs">2014-03-20</text>
<text x="0" y="66" fill="#0000ff" font-size="13" font-family="'Liberation Serif','Noto Serif CJK SC',serif" font-weight="600" textLength="34" lengthAdjust="spacingAndGlyphs">日K线</text>
<text x="68" y="73" fill="#000000" font-size="12.5" font-family="'Liberation Sans','Noto Sans CJK SC',sans-serif" textLength="51" lengthAdjust="spacingAndGlyphs">移动均线</text>
<text x="138.5" y="74.2" fill="#0000ff" font-size="12" font-family="'Liberation Sans','Noto Sans CJK SC',sans-serif" textLength="65.5" lengthAdjust="spacingAndGlyphs">Ma5=18.1480</text>
<text x="218.5" y="74.2" fill="#ff0000" font-size="12" font-family="'Liberation Sans','Noto Sans CJK SC',sans-serif" textLength="69.5" lengthAdjust="spacingAndGlyphs">Ma10=18.1090</text>
<text x="296" y="74.2" fill="#ff00ff" font-size="12" font-family="'Liberation Sans','Noto Sans CJK SC',sans-serif" textLength="69.5" lengthAdjust="spacingAndGlyphs">Ma20=18.1890</text>
<rect x="375" y="64" width="73" height="12" fill="#fff"/>
<text x="376" y="74.2" fill="#000000" font-size="12" font-family="'Liberation Sans','Noto Sans CJK SC',sans-serif" textLength="71" lengthAdjust="spacingAndGlyphs">Ma30=16.4403</text>
<text x="454.5" y="74.2" fill="#008000" font-size="12" font-family="'Liberation Sans','Noto Sans CJK SC',sans-serif" textLength="71" lengthAdjust="spacingAndGlyphs">Ma60=12.3817</text>
<text x="386" y="94" fill="#0000ff" font-size="11" font-family="'Liberation Sans','Noto Sans CJK SC',sans-serif" textLength="44.5" lengthAdjust="spacing">21.6600</text>
<text x="99" y="446.9" fill="#0000ff" font-size="11" font-family="'Liberation Sans','Noto Sans CJK SC',sans-serif" textLength="36.5" lengthAdjust="spacing">7.4400</text>
<text x="0.5" y="378" fill="#ffffff" font-size="11" font-family="'Liberation Sans','Noto Sans CJK SC',sans-serif" textLength="36.5" lengthAdjust="spacingAndGlyphs">10.3115</text>
<text x="30" y="447" fill="#3c3c3c" font-size="11" font-family="'Liberation Sans','Noto Sans CJK SC',sans-serif" textLength="35.5" lengthAdjust="spacing">7.4360</text>
<text x="30" y="472" fill="#3c3c3c" font-size="11" font-family="'Liberation Sans','Noto Sans CJK SC',sans-serif" textLength="35.5" lengthAdjust="spacing">341499</text>
<text x="30" y="488" fill="#3c3c3c" font-size="11" font-family="'Liberation Sans','Noto Sans CJK SC',sans-serif" textLength="35.5" lengthAdjust="spacing">227666</text>
<text x="30" y="504" fill="#3c3c3c" font-size="11" font-family="'Liberation Sans','Noto Sans CJK SC',sans-serif" textLength="35.5" lengthAdjust="spacing">113833</text>
<text x="42" y="544" fill="#3c3c3c" font-size="11" font-family="'Liberation Sans','Noto Sans CJK SC',sans-serif" textLength="23.5" lengthAdjust="spacing">2.12</text>
<text x="42" y="562" fill="#3c3c3c" font-size="11" font-family="'Liberation Sans','Noto Sans CJK SC',sans-serif" textLength="23.5" lengthAdjust="spacing">1.26</text>
<text x="42" y="580" fill="#3c3c3c" font-size="11" font-family="'Liberation Sans','Noto Sans CJK SC',sans-serif" textLength="23.5" lengthAdjust="spacing">0.40</text>
<text x="36" y="598" fill="#3c3c3c" font-size="11" font-family="'Liberation Sans','Noto Sans CJK SC',sans-serif" textLength="29.5" lengthAdjust="spacing">-0.46</text>
<text x="2" y="530.3" fill="#0000ff" font-size="12.5" font-family="'Liberation Serif','Noto Serif CJK SC',serif" font-weight="500" textLength="25.5" lengthAdjust="spacingAndGlyphs">MACD</text>
<text x="73.5" y="530.2" fill="#000000" font-size="12" font-family="'Liberation Sans','Noto Sans CJK SC',sans-serif" textLength="44" lengthAdjust="spacingAndGlyphs">DIF=1.27</text>
<text x="144.5" y="530.2" fill="#0000ff" font-size="12" font-family="'Liberation Sans','Noto Sans CJK SC',sans-serif" textLength="49" lengthAdjust="spacingAndGlyphs">DEA=1.65</text>
<text x="215" y="530.2" fill="#ff00ff" font-size="12" font-family="'Liberation Sans','Noto Sans CJK SC',sans-serif" textLength="61" lengthAdjust="spacingAndGlyphs">MACD=-0.77</text>
<g id="toolbar">
<rect x="0" y="0" width="1009" height="48" fill="#ece9d8"/>
<g shape-rendering="crispEdges" fill="none" stroke-width="1">
<rect x="0" y="21" width="1009" height="1" fill="#b4b1a0"/><rect x="0" y="22" width="1009" height="1" fill="#ffffff"/>
<rect x="0" y="47" width="1009" height="1" fill="#a6a6a0"/>
<rect x="2" y="0" width="1" height="19" fill="#ffffff"/><rect x="3" y="0" width="1" height="19" fill="#aca899"/>
<rect x="2" y="25" width="1" height="20" fill="#ffffff"/><rect x="3" y="25" width="1" height="20" fill="#aca899"/>
<rect x="449" y="25" width="1" height="20" fill="#ffffff"/><rect x="450" y="25" width="1" height="20" fill="#aca899"/>
<rect x="666" y="25" width="1" height="20" fill="#ffffff"/><rect x="667" y="25" width="1" height="20" fill="#aca899"/>
<rect x="208" y="0" width="1" height="20" fill="#aca899"/><rect x="209" y="0" width="1" height="20" fill="#ffffff"/>
<rect x="444" y="0" width="1" height="47" fill="#aca899"/><rect x="445" y="0" width="1" height="47" fill="#ffffff"/>
<rect x="566" y="0" width="1" height="20" fill="#aca899"/><rect x="567" y="0" width="1" height="20" fill="#ffffff"/>
<rect x="661" y="23" width="1" height="24" fill="#aca899"/><rect x="662" y="23" width="1" height="24" fill="#ffffff"/>
<rect x="38" y="0" width="23" height="20" fill="#f7f6ef"/>
<rect x="37" y="0" width="1" height="20" fill="#aca899"/>
<rect x="161" y="0" width="23" height="20" fill="#f7f6ef"/>
<rect x="160" y="0" width="1" height="20" fill="#aca899"/>
<rect x="185" y="0" width="22" height="20" fill="#f7f6ef"/>
<rect x="184" y="0" width="1" height="20" fill="#aca899"/>
<rect x="471" y="0" width="23" height="20" fill="#f7f6ef"/>
<rect x="470" y="0" width="1" height="20" fill="#aca899"/>
<polygon points="27.5,7.5 34.5,7.5 31,11.5" fill="#000" stroke="none"/>
<polygon points="150.5,7.5 157.5,7.5 154,11.5" fill="#000" stroke="none"/>
<rect x="137.5" y="4.5" width="5" height="9" fill="none" stroke="#000" stroke-width="1"/>
<rect x="139.5" y="2" width="1" height="2" fill="#000"/>
<rect x="139.5" y="14" width="1" height="2" fill="#000"/>
</g>
<path d="M43.500 5.500h3l1.500-1.500h3l1.500 1.500h3v4h-2.500l1 1.500 1.500 0v4h-3.500l-1-1h-3l-1 1h-3.500v-4l1.500 0 1-1.500h-2.500zM46.500 10l2.500-2.500 2.500 2.500M48 12.500h3" fill="none" stroke="#0000ff" stroke-width="1.150"/>
<rect x="65.700" y="4" width="9.600" height="11.300" rx="2" fill="none" stroke="#0000ff" stroke-width="1.250"/>
<path d="M68 4v-1.500h5v1.500M68.500 7.500h4.500M68.500 10h4.500M68.500 12.500h4.500" fill="none" stroke="#0000ff" stroke-width="1.100"/>
<polyline points="87.500,16 87.500,11.500 90,11.500 90,13.800 92.500,13.800 92.500,7.500 95,7.500 95,10.200 97.500,10.200 97.500,2.500 99.500,2.500 99.500,8.500" fill="none" stroke="#990099" stroke-width="1.150"/>
<polyline points="110.500,16 110.500,11.500 113,11.500 113,13.800 115.500,13.800 115.500,7.500 118,7.500 118,10.200 120.500,10.200 120.500,2.500 122.500,2.500 122.500,8.500" fill="none" stroke="#990000" stroke-width="1.150"/>
<path d="M165 4h5.500v3l-2 1.500 2 2-2.500 2 1.500 3h-4.500l1-3-1.500-2 1.500-2.500-1.500-1.500zM172.500 3.500h5.500l-1 4 1 4.500-1 3.500h-5l2-3.500-2.500-2.500 2-2.500z" fill="none" stroke="#990000" stroke-width="1.200"/>
<rect x="174" y="6" width="2" height="2" fill="#990000"/>
<g shape-rendering="crispEdges" fill="none" stroke-width="1">
<polygon points="189,1.5 203.5,8.5 189,9.5" fill="#ff00ff" stroke="none"/>
<polygon points="189,9.5 200,9.5 197,11 195,12.5 192,13.5 189,15" fill="#008888" stroke="none"/>
<rect x="188" y="2" width="1" height="15" fill="#990000"/>
<rect x="187" y="15" width="16" height="1" fill="#990000"/>
<rect x="215" y="2" width="3" height="14" fill="#808000"/>
<polygon points="230,2 230,16 218,9" fill="#808000" stroke="#404000"/>
<rect x="250" y="2" width="3" height="14" fill="#808000"/>
<polygon points="238,2 238,16 250,9" fill="#808000" stroke="#404000"/>
<polygon points="276,2 276,9 262,9" fill="#ffffff" stroke="none"/>
<polygon points="276,2 271,9 276,16" fill="#909090" stroke="none"/>
<polygon points="262,9 271,9 276,16" fill="#000000" stroke="none"/>
<polygon points="285,2 285,9 299,9" fill="#ffffff" stroke="none"/>
<polygon points="285,2 290,9 285,16" fill="#909090" stroke="none"/>
<polygon points="299,9 290,9 285,16" fill="#000000" stroke="none"/>
</g>
<polygon points="314.5,1.0 322.0,8.5 314.5,16.0 307.0,8.5" fill="#ffff00" stroke="#000" stroke-width="1.100"/>
<path d="M310.0 8.5h9m-9 0l3-3m-3 3l3 3" stroke="#000" stroke-width="1.4" fill="none"/>
<polygon points="337.5,1.0 345.0,8.5 337.5,16.0 330.0,8.5" fill="#ffff00" stroke="#000" stroke-width="1.100"/>
<path d="M333.0 8.5h9m0 0l-3-3m3 3l-3 3" stroke="#000" stroke-width="1.4" fill="none"/>
<polygon points="360.5,1.0 368.0,8.5 360.5,16.0 353.0,8.5" fill="#ffff00" stroke="#000" stroke-width="1.100"/>
<path d="M355.5 8.5h10m-10 0l2.5-2.5m-2.5 2.5l2.5 2.5M365.5 8.5l-2.5-2.5m2.5 2.5l-2.5 2.5M360.5 5.0v7" stroke="#000" stroke-width="1.3" fill="none"/>
<polygon points="383.5,1.0 391.0,8.5 383.5,16.0 376.0,8.5" fill="#ffff00" stroke="#000" stroke-width="1.100"/>
<path d="M378.5 8.5h10M383.0 8.5l-2.5-2.5m2.5 2.5l-2.5 2.5M384.0 8.5l2.5-2.5m-2.5 2.5l2.5 2.5" stroke="#000" stroke-width="1.4" fill="none"/>
<polygon points="406.5,1.0 414.0,8.5 406.5,16.0 399.0,8.5" fill="#ffff00" stroke="#000" stroke-width="1.100"/>
<path d="M401.5 8.5h10M406.5 3.5v10M403.5 5.5l6 6m0-6l-6 6" stroke="#000" stroke-width="1.3" fill="none"/>
<polygon points="429.5,1.0 437.0,8.5 429.5,16.0 422.0,8.5" fill="#ffff00" stroke="#000" stroke-width="1.100"/>
<path d="M424.5 8.5h10M429.5 3.5v10M424.5 8.5l2 2m-2-2l2-2M434.5 8.5l-2 2m2-2l-2-2M429.5 3.5l-2 2m2-2l2 2M429.5 13.5l-2-2m2 2l2-2" stroke="#000" stroke-width="1.2" fill="none"/>
<path d="M455 9l-2-2-1 1 3 5 3 3h5l2-4v-6l-1.5-1-1 1v-3l-1.5-.5-1 1v-1.500l-1.500-.5-1 1v6z" fill="#ece9d8" stroke="#000" stroke-width="1"/>
<g shape-rendering="crispEdges" fill="none" stroke-width="1">
<rect x="483" y="2" width="1" height="15" fill="#000"/>
<rect x="476" y="9" width="15" height="1" fill="#000"/>
</g>
<polyline points="497,5 501,12 507,5 513,12" stroke="#000" fill="none" stroke-width="1.2"/>
<circle cx="501" cy="13" r="2" fill="none" stroke="#ff0000" stroke-width="1.3"/><circle cx="507" cy="5" r="2" fill="none" stroke="#ff0000" stroke-width="1.3"/>
<path d="M521 3h4v-1.500h5v1.500h4v6h-4v6h-6v-6h-3zM527 8h4v4h-2" fill="none" stroke="#990099" stroke-width="1.6"/>
<path d="M547 3l4-1 4 1 2 4-1 3 2 3-1 3h-5l-1-2-2 2h-5l1-4 1-3-1-3zM549 8l3-2 3 3-2 3h-5" fill="none" stroke="#008888" stroke-width="1.5"/>
<g shape-rendering="crispEdges" fill="none" stroke-width="1">
<rect x="575" y="4" width="13" height="12" fill="#808080"/>
<rect x="574" y="3" width="13" height="12" fill="#ffffff"/>
<rect x="574.5" y="3.5" width="12" height="11" fill="none" stroke="#000" stroke-width="1"/>
<rect x="575" y="4" width="11" height="2" fill="#00cccc"/>
<rect x="576" y="1" width="1" height="2" fill="#808080"/>
<rect x="584" y="1" width="1" height="2" fill="#808080"/>
<rect x="595" y="1" width="15" height="15" fill="#00cccc"/>
<rect x="597" y="3" width="11" height="12" fill="#003366"/>
<rect x="598" y="4" width="9" height="3" fill="#c8c8c0"/>
<rect x="598" y="9" width="2" height="2" fill="#d8d8d8"/>
<rect x="601" y="9" width="2" height="2" fill="#d8d8d8"/>
<rect x="605" y="9" width="2" height="2" fill="#d8d8d8"/>
<rect x="598" y="12" width="2" height="2" fill="#d8d8d8"/>
<rect x="601" y="12" width="2" height="2" fill="#d8d8d8"/>
<rect x="605" y="12" width="2" height="2" fill="#d8d8d8"/>
<rect x="595.5" y="1.5" width="14" height="14" fill="none" stroke="#006080" stroke-width="1"/>
<rect x="619" y="2" width="15" height="15" fill="#808080"/>
<rect x="618" y="1" width="15" height="15" fill="#ffffff"/>
<rect x="618.5" y="1.5" width="14" height="14" fill="none" stroke="#000" stroke-width="1"/>
<rect x="620" y="1" width="1" height="15" fill="#000"/>
<rect x="618" y="2" width="2" height="1" fill="#000"/>
<rect x="618" y="4" width="2" height="1" fill="#000"/>
<rect x="618" y="6" width="2" height="1" fill="#000"/>
<rect x="618" y="8" width="2" height="1" fill="#000"/>
<rect x="618" y="10" width="2" height="1" fill="#000"/>
<rect x="618" y="12" width="2" height="1" fill="#000"/>
<rect x="618" y="14" width="2" height="1" fill="#000"/>
<rect x="623" y="3" width="8" height="1" fill="#0000ff"/>
<rect x="623" y="5" width="8" height="1" fill="#0000ff"/>
<rect x="623" y="7" width="8" height="1" fill="#0000ff"/>
<rect x="623" y="9" width="8" height="1" fill="#0000ff"/>
<polygon points="626,15 633,8 633,15" fill="#c0c0c0" stroke="#000"/>
<rect x="641" y="2" width="16" height="14" rx="1.500" fill="#101010"/>
<rect x="642" y="3" width="3" height="12" fill="#ff0000"/>
<rect x="645" y="3" width="11" height="7" fill="#7fe0f0"/>
<polygon points="650,10 656,4 656,10" fill="#208030" stroke="none"/>
<rect x="645" y="9" width="9" height="2" fill="#1010e0"/>
<rect x="646" y="4" width="2" height="2" fill="#ffff40"/>
<rect x="645" y="12" width="6" height="3" fill="#f0f0f0"/>
<rect x="647" y="13" width="2" height="2" fill="#101010"/>
<rect x="652" y="12" width="2" height="3" fill="#e01010"/>
<rect x="668" y="1" width="8" height="8" fill="#f4f4f4"/>
<rect x="668.5" y="1.5" width="7" height="7" fill="none" stroke="#101010" stroke-width="1"/>
<rect x="668" y="1" width="8" height="2" fill="#000080"/>
<rect x="664" y="4" width="8" height="8" fill="#f4f4f4"/>
<rect x="664.5" y="4.5" width="7" height="7" fill="none" stroke="#101010" stroke-width="1"/>
<rect x="664" y="4" width="8" height="2" fill="#000080"/>
<rect x="666" y="7" width="2" height="3" fill="#a0a0a0"/>
</g>
<circle cx="674.800" cy="12" r="4.600" fill="#30d8e8" stroke="#101820" stroke-width="1.200"/><path d="M672.500 12.500l2-2.500 2 .5 1.500-1.500.5 3-2 1-.5 3-1.500-2z" fill="#b0b020"/>
<g shape-rendering="crispEdges">
<rect x="692" y="1" width="10" height="8" fill="#707058"/>
<rect x="694" y="3" width="6" height="4" fill="#1010e0"/>
<rect x="694" y="9" width="9" height="4" fill="#909078"/>
<rect x="699" y="10" width="2" height="1" fill="#20a020"/>
<rect x="695" y="13" width="8" height="2" fill="#181810"/>
<rect x="689" y="7" width="5" height="9" fill="#f0f0f0"/>
<rect x="689" y="10" width="5" height="2" fill="#1030d0"/>
<rect x="692" y="9" width="1" height="3" fill="#d02020"/>
<rect x="689.5" y="7.5" width="4" height="8" fill="none" stroke="#707058" stroke-width="1"/>
<rect x="688" y="5" width="1" height="2" fill="#303020"/>
<rect x="689" y="4" width="4" height="1" fill="#303020"/>
</g>
<text transform="translate(9.3,14.4) scale(1.28,1.0)" font-size="13" font-weight="900" fill="#000" font-family="'Liberation Sans','Noto Sans CJK SC',sans-serif">日</text>
<text x="97" y="16.500" font-size="7" font-weight="700" fill="#000" font-family="'Liberation Sans','Noto Sans CJK SC',sans-serif">3</text>
<text x="120" y="16.500" font-size="7" font-weight="700" fill="#000" font-family="'Liberation Sans','Noto Sans CJK SC',sans-serif">9</text>
<text x="575.500" y="14" font-size="9" font-weight="700" fill="#ff0000" font-family="'Liberation Sans','Noto Sans CJK SC',sans-serif" textLength="10" lengthAdjust="spacingAndGlyphs">21</text>
<g shape-rendering="crispEdges" fill="none" stroke-width="1">
<rect x="34" y="29" width="1" height="13" fill="#000"/>
<rect x="38" y="29" width="1" height="13" fill="#000"/>
<rect x="42" y="29" width="1" height="13" fill="#000"/>
<rect x="33" y="34" width="14" height="1" fill="#000"/>
<rect x="55" y="29" width="16" height="1" fill="#000"/>
<rect x="57" y="27" width="1" height="6" fill="#000"/>
<rect x="61" y="27" width="1" height="6" fill="#000"/>
<rect x="65" y="27" width="1" height="6" fill="#000"/>
<rect x="69" y="27" width="1" height="6" fill="#000"/>
<rect x="78" y="29" width="16" height="1" fill="#000"/>
<rect x="80" y="27" width="1" height="6" fill="#000"/>
<rect x="84" y="27" width="1" height="6" fill="#000"/>
<rect x="88" y="27" width="1" height="6" fill="#000"/>
<rect x="92" y="27" width="1" height="6" fill="#000"/>
<rect x="101" y="29" width="16" height="1" fill="#000"/>
<rect x="103" y="27" width="1" height="6" fill="#000"/>
<rect x="107" y="27" width="1" height="6" fill="#000"/>
<rect x="111" y="27" width="1" height="6" fill="#000"/>
<rect x="115" y="27" width="1" height="6" fill="#000"/>
<rect x="124" y="29" width="16" height="1" fill="#000"/>
<rect x="126" y="27" width="1" height="6" fill="#000"/>
<rect x="130" y="27" width="1" height="6" fill="#000"/>
<rect x="134" y="27" width="1" height="6" fill="#000"/>
<rect x="138" y="27" width="1" height="6" fill="#000"/>
<rect x="147" y="40" width="16" height="1" fill="#000"/>
<rect x="148" y="38" width="1" height="5" fill="#000"/>
<rect x="152" y="38" width="1" height="5" fill="#000"/>
<rect x="155" y="38" width="1" height="5" fill="#000"/>
<rect x="158" y="38" width="1" height="5" fill="#000"/>
<rect x="161" y="38" width="1" height="5" fill="#000"/>
<rect x="194" y="29" width="1" height="12" fill="#000"/>
<rect x="198" y="29" width="1" height="12" fill="#000"/>
<rect x="202" y="29" width="1" height="12" fill="#000"/>
<rect x="206" y="29" width="1" height="12" fill="#000"/>
<rect x="193" y="34" width="16" height="1" fill="#000"/>
<rect x="216" y="29" width="16" height="1" fill="#000"/>
<rect x="218" y="27" width="1" height="6" fill="#000"/>
<rect x="222" y="27" width="1" height="6" fill="#000"/>
<rect x="226" y="27" width="1" height="6" fill="#000"/>
<rect x="230" y="27" width="1" height="6" fill="#000"/>
</g>
<circle cx="178" cy="35" r="7.500" fill="none" stroke="#000" stroke-width="1.2"/>
<path d="M171 35.500h14M173.500 33v5M176.500 33v5M179.500 33v5M182.500 33v5M181 31l4.500-3.500" stroke="#000" stroke-width="1" fill="none"/>
<path d="M127 33h10q3 0 3 3q0 6-7 6q-5 0-5-3q0-3 4-3q3 0 3 2" stroke="#000" stroke-width="1.2" fill="none"/>
<path d="M240 41l6-12 7 5.500z" stroke="#000" stroke-width="1" fill="none"/><path d="M249.500 28v14M254.500 28v14" stroke="#777" stroke-width="1" fill="none"/>
<path d="M278 31q-3-3-7-3q-7 0-7 7q0 6 6 6q4 0 4-4q0-3-3-3q-2 0-2 2" stroke="#000" stroke-width="1.050" fill="none"/>
<path d="M262 36.500h16M270.500 27v16" stroke="#ff0000" stroke-width="1" fill="none"/>
<circle cx="292.500" cy="34.500" r="7" fill="none" stroke="#909090" stroke-width="1"/><circle cx="292.500" cy="34.500" r="4" fill="none" stroke="#909090" stroke-width="1"/>
<path d="M285 34.500h15M292.500 27v15" stroke="#ff0000" stroke-width="1" stroke-dasharray="2 1" fill="none"/><path d="M287.500 29.500l10 10M297.500 29.500l-10 10" stroke="#008888" stroke-width="1.3" fill="none"/>
<rect x="309.500" y="28.500" width="13" height="13" fill="none" stroke="#808080"/><rect x="312.500" y="31.500" width="7" height="7" fill="none" stroke="#808080"/>
<path d="M308 35.500h16M316.500 27v16" stroke="#008888" stroke-width="1" fill="none"/><path d="M309 28l14 14M323 28l-14 14" stroke="#ff0000" stroke-width="1" stroke-dasharray="1.500 1.500" fill="none"/>
<path d="M332.500 28v14M340.500 28v14M332.500 41l8-12" stroke="#000" stroke-width="1.050" fill="none"/><path d="M343.500 28v3M346.500 28v3" stroke="#000" stroke-width="1" fill="none"/>
<g shape-rendering="crispEdges" fill="none" stroke-width="1">
<rect x="354" y="30" width="16" height="1" fill="#000"/>
<rect x="356" y="28" width="1" height="6" fill="#000"/>
<rect x="362" y="28" width="1" height="6" fill="#000"/>
<rect x="368" y="28" width="1" height="6" fill="#000"/>
<rect x="377" y="30" width="16" height="1" fill="#000"/>
<rect x="379" y="28" width="1" height="6" fill="#000"/>
<rect x="385" y="28" width="1" height="6" fill="#000"/>
<rect x="391" y="28" width="1" height="6" fill="#000"/>
<rect x="401" y="28" width="14" height="1" fill="#000"/>
<rect x="401" y="28" width="1" height="9" fill="#000"/>
<rect x="403" y="28" width="1" height="6" fill="#000"/>
<rect x="405" y="28" width="1" height="9" fill="#000"/>
<rect x="407" y="28" width="1" height="6" fill="#000"/>
<rect x="409" y="28" width="1" height="9" fill="#000"/>
<rect x="411" y="28" width="1" height="6" fill="#000"/>
<rect x="413" y="28" width="1" height="9" fill="#000"/>
<rect x="415" y="28" width="1" height="6" fill="#000"/>
<rect x="401" y="28" width="1" height="14" fill="#000"/>
<rect x="400" y="41" width="3" height="1" fill="#000"/>
<rect x="405" y="39" width="2" height="3" fill="#000"/>
<rect x="409" y="39" width="2" height="3" fill="#000"/>
<rect x="413" y="39" width="2" height="3" fill="#000"/>
<rect x="423" y="31" width="1" height="8" fill="#000"/>
<rect x="430" y="27" width="1" height="16" fill="#000"/>
<rect x="437" y="31" width="1" height="8" fill="#000"/>
<rect x="423" y="34" width="15" height="1" fill="#000"/>
<polygon points="424,34.500 427,32 427,37" fill="#000" stroke="none"/>
<polygon points="437,34.500 434,32 434,37" fill="#000" stroke="none"/>
<rect x="460.5" y="28.5" width="10" height="10" fill="none" stroke="#000" stroke-width="1"/>
<rect x="461" y="29" width="10" height="1" fill="#000"/>
<rect x="457" y="28" width="1" height="11" fill="#909090"/>
<rect x="456" y="28" width="3" height="1" fill="#909090"/>
<rect x="456" y="38" width="3" height="1" fill="#909090"/>
<rect x="460" y="41" width="11" height="1" fill="#909090"/>
<rect x="460" y="40" width="1" height="3" fill="#909090"/>
<rect x="470" y="40" width="1" height="3" fill="#909090"/>
</g>
<path d="M480 43l15-15" stroke="#000" stroke-width="1.2" fill="none"/>
<path d="M480 43l5-16M480 43l10-15M480 43l15-9M480 43l15-4" stroke="#ff0000" stroke-width="1" fill="none"/>
<path d="M480 43l9-3" stroke="#990000" stroke-width="1.500" fill="none"/>
<rect x="503.500" y="29.500" width="13" height="13" fill="none" stroke="#000" stroke-width="1.400"/>
<path d="M503 43l15-15M503 43l9-15M503 43l14-8" stroke="#ff0000" stroke-width="1.100" fill="none"/><path d="M506 28v4M510 28v3M513 38h5M514 34h4M503 43l6-14M503 43l14-4" stroke="#990099" stroke-width="1" fill="none"/>
<rect x="526.500" y="28.500" width="13" height="13" fill="none" stroke="#000" stroke-width="1.400"/>
<path d="M526 28l15 15M526 28l14 9M526 28l9 14" stroke="#ff0000" stroke-width="1.100" fill="none"/><path d="M533 30h8M537 33v8M529 37v6M526 28l5 14" stroke="#990099" stroke-width="1" fill="none"/>
<path d="M548 43l16-16M548 43l16-9M548 43l16-4" stroke="#000" stroke-width="1.200" fill="none"/><polygon points="548,43 553,38 556,41" fill="#000"/>
<path d="M571 28l6 13 5-9 4 5" stroke="#000" stroke-width="1.200" fill="none"/><path d="M571 41.500h16" stroke="#444" stroke-width="1" stroke-dasharray="1 1" fill="none"/>
<g shape-rendering="crispEdges">
<rect x="594" y="28" width="1" height="16" fill="#909090"/><rect x="594" y="28" width="16" height="1" fill="#909090"/>
<rect x="597" y="28" width="1" height="16" fill="#909090"/><rect x="594" y="31" width="16" height="1" fill="#909090"/>
<rect x="600" y="28" width="1" height="16" fill="#909090"/><rect x="594" y="34" width="16" height="1" fill="#909090"/>
<rect x="603" y="28" width="1" height="16" fill="#909090"/><rect x="594" y="37" width="16" height="1" fill="#909090"/>
<rect x="606" y="28" width="1" height="16" fill="#909090"/><rect x="594" y="40" width="16" height="1" fill="#909090"/>
<rect x="609" y="28" width="1" height="16" fill="#909090"/><rect x="594" y="43" width="16" height="1" fill="#909090"/>
<rect x="594" y="28" width="1" height="1" fill="#ff0000"/>
<rect x="594" y="34" width="1" height="1" fill="#ff0000"/>
<rect x="594" y="40" width="1" height="1" fill="#ff0000"/>
<rect x="597" y="31" width="1" height="1" fill="#ff0000"/>
<rect x="597" y="37" width="1" height="1" fill="#ff0000"/>
<rect x="597" y="43" width="1" height="1" fill="#ff0000"/>
<rect x="600" y="28" width="1" height="1" fill="#ff0000"/>
<rect x="600" y="34" width="1" height="1" fill="#ff0000"/>
<rect x="600" y="40" width="1" height="1" fill="#ff0000"/>
<rect x="603" y="31" width="1" height="1" fill="#ff0000"/>
<rect x="603" y="37" width="1" height="1" fill="#ff0000"/>
<rect x="603" y="43" width="1" height="1" fill="#ff0000"/>
<rect x="606" y="28" width="1" height="1" fill="#ff0000"/>
<rect x="606" y="34" width="1" height="1" fill="#ff0000"/>
<rect x="606" y="40" width="1" height="1" fill="#ff0000"/>
<rect x="609" y="31" width="1" height="1" fill="#ff0000"/>
<rect x="609" y="37" width="1" height="1" fill="#ff0000"/>
<rect x="609" y="43" width="1" height="1" fill="#ff0000"/>
<rect x="597" y="31" width="1" height="1" fill="#ff0000"/>
<rect x="597" y="37" width="1" height="1" fill="#ff0000"/>
<rect x="597" y="43" width="1" height="1" fill="#ff0000"/>
<rect x="603" y="31" width="1" height="1" fill="#ff0000"/>
<rect x="603" y="37" width="1" height="1" fill="#ff0000"/>
<rect x="603" y="43" width="1" height="1" fill="#ff0000"/>
<rect x="609" y="31" width="1" height="1" fill="#ff0000"/>
<rect x="609" y="37" width="1" height="1" fill="#ff0000"/>
<rect x="609" y="43" width="1" height="1" fill="#ff0000"/>
</g>
<g shape-rendering="crispEdges">
<rect x="617" y="28" width="1" height="16" fill="#909090"/><rect x="617" y="28" width="16" height="1" fill="#909090"/>
<rect x="620" y="28" width="1" height="16" fill="#909090"/><rect x="617" y="31" width="16" height="1" fill="#909090"/>
<rect x="623" y="28" width="1" height="16" fill="#909090"/><rect x="617" y="34" width="16" height="1" fill="#909090"/>
<rect x="626" y="28" width="1" height="16" fill="#909090"/><rect x="617" y="37" width="16" height="1" fill="#909090"/>
<rect x="629" y="28" width="1" height="16" fill="#909090"/><rect x="617" y="40" width="16" height="1" fill="#909090"/>
<rect x="632" y="28" width="1" height="16" fill="#909090"/><rect x="617" y="43" width="16" height="1" fill="#909090"/>
<rect x="617" y="28" width="1" height="1" fill="#ff0000"/>
<rect x="617" y="34" width="1" height="1" fill="#ff0000"/>
<rect x="617" y="40" width="1" height="1" fill="#ff0000"/>
<rect x="620" y="31" width="1" height="1" fill="#ff0000"/>
<rect x="620" y="37" width="1" height="1" fill="#ff0000"/>
<rect x="620" y="43" width="1" height="1" fill="#ff0000"/>
<rect x="623" y="28" width="1" height="1" fill="#ff0000"/>
<rect x="623" y="34" width="1" height="1" fill="#ff0000"/>
<rect x="623" y="40" width="1" height="1" fill="#ff0000"/>
<rect x="626" y="31" width="1" height="1" fill="#ff0000"/>
<rect x="626" y="37" width="1" height="1" fill="#ff0000"/>
<rect x="626" y="43" width="1" height="1" fill="#ff0000"/>
<rect x="629" y="28" width="1" height="1" fill="#ff0000"/>
<rect x="629" y="34" width="1" height="1" fill="#ff0000"/>
<rect x="629" y="40" width="1" height="1" fill="#ff0000"/>
<rect x="632" y="31" width="1" height="1" fill="#ff0000"/>
<rect x="632" y="37" width="1" height="1" fill="#ff0000"/>
<rect x="632" y="43" width="1" height="1" fill="#ff0000"/>
<rect x="620" y="31" width="1" height="1" fill="#ff0000"/>
<rect x="620" y="37" width="1" height="1" fill="#ff0000"/>
<rect x="620" y="43" width="1" height="1" fill="#ff0000"/>
<rect x="626" y="31" width="1" height="1" fill="#ff0000"/>
<rect x="626" y="37" width="1" height="1" fill="#ff0000"/>
<rect x="626" y="43" width="1" height="1" fill="#ff0000"/>
<rect x="632" y="31" width="1" height="1" fill="#ff0000"/>
<rect x="632" y="37" width="1" height="1" fill="#ff0000"/>
<rect x="632" y="43" width="1" height="1" fill="#ff0000"/>
<rect x="617" y="27" width="1" height="16" fill="#000"/><rect x="617" y="43" width="16" height="1" fill="#000"/>
<polygon points="615,30 620,30 617,26" fill="#000"/>
<polygon points="630,41 630,46 634,43" fill="#000"/>
</g>
<path d="M641.500 28v14M652.500 28v14" stroke="#808080" stroke-width="1" fill="none"/><path d="M641 34l15-6M641 38l15-6M641 42l15-6" stroke="#000" stroke-width="1.200" fill="none"/>
<g shape-rendering="crispEdges">
<rect x="675" y="28" width="1" height="14" fill="#000"/>
<rect x="675" y="41" width="13" height="1" fill="#000"/>
<rect x="675" y="28" width="8" height="1" fill="#000"/>
<rect x="675" y="30" width="6" height="1" fill="#000"/>
<rect x="675" y="32" width="8" height="1" fill="#000"/>
<rect x="675" y="34" width="6" height="1" fill="#000"/>
<rect x="675" y="36" width="8" height="1" fill="#000"/>
<rect x="675" y="38" width="6" height="1" fill="#000"/>
<rect x="675" y="40" width="8" height="1" fill="#000"/>
<rect x="685" y="29" width="3" height="2" fill="#000"/>
<rect x="685" y="33" width="3" height="2" fill="#000"/>
<rect x="685" y="37" width="3" height="2" fill="#000"/>
<rect x="688" y="39" width="1" height="4" fill="#000"/>
</g>
<path d="M697 28.500h15M697 42.500h5M699 42l5-13 4 3 4-3M706 34.500h6" stroke="#ff0000" stroke-width="1.100" fill="none"/><path d="M700 41l5-13 3.500 4 3-3" stroke="#000" stroke-width="1" fill="none"/>
<text x="703.500" y="42.500" font-size="9" font-weight="700" fill="#ff0000" font-family="'Liberation Sans','Noto Sans CJK SC',sans-serif">%</text>
<text x="719.500" y="41.500" font-size="16.500" fill="#000" font-family="'Liberation Sans','Noto Sans CJK SC',sans-serif">%</text>
<g shape-rendering="crispEdges">
<rect x="742" y="28" width="16" height="1" fill="#000"/>
<rect x="742" y="42" width="16" height="1" fill="#000"/>
<rect x="750" y="31" width="8" height="1" fill="#000"/>
<rect x="750" y="35" width="8" height="1" fill="#000"/>
<rect x="750" y="38" width="8" height="1" fill="#000"/>
<rect x="742" y="41" width="16" height="1" fill="#ff0000"/>
<rect x="788" y="28" width="16" height="1" fill="#000"/>
<rect x="788" y="42" width="16" height="1" fill="#000"/>
<rect x="797" y="31" width="7" height="1" fill="#000"/>
<rect x="797" y="35" width="7" height="1" fill="#000"/>
<rect x="797" y="38" width="7" height="1" fill="#000"/>
<rect x="788" y="40" width="9" height="1" fill="#808000"/>
<rect x="813" y="28" width="1" height="15" fill="#000"/>
<rect x="811" y="29" width="5" height="1" fill="#000"/>
<rect x="811" y="32" width="5" height="1" fill="#000"/>
<rect x="811" y="35" width="5" height="1" fill="#000"/>
<rect x="811" y="38" width="5" height="1" fill="#000"/>
<rect x="811" y="42" width="5" height="1" fill="#000"/>
<rect x="834" y="28" width="16" height="1" fill="#ff0000"/>
<rect x="834" y="42" width="16" height="1" fill="#ff0000"/>
<rect x="834" y="34" width="16" height="1" fill="#000"/>
<rect x="857" y="28" width="16" height="1" fill="#ff0000"/>
<rect x="857" y="42" width="16" height="1" fill="#ff0000"/>
</g>
<text x="742" y="41" font-size="10" font-weight="700" fill="#ff0000" font-family="'Liberation Sans','Noto Sans CJK SC',sans-serif">%</text>
<path d="M835 40q3-16 6-4t6-3l2-4" stroke="#808080" stroke-width="1.200" fill="none"/>
<circle cx="773" cy="35" r="7.500" fill="none" stroke="#a0a0a0" stroke-width="1.200"/>
<path d="M880 42.500l15-15M888 34.500h7.500M884 38.500h11.500M880 42.500h15.500" stroke="#000" stroke-width="1.300" fill="none"/>
<path d="M903 42.500l15-15M911 34.500h7.500M907 38.500h11.500M903 42.500h15.500" stroke="#000" stroke-width="1.300" fill="none"/>
<path d="M926 42.500l15-15M934 34.500h7.500M930 38.500h11.500M926 42.500h15.500" stroke="#000" stroke-width="1.300" fill="none"/>
<path d="M949 42.500l15-15M957 34.500h7.500M953 38.500h11.500M949 42.500h15.500" stroke="#000" stroke-width="1.300" fill="none"/>
<path d="M972 42.500l15-15M980 34.500h7.500M976 38.500h11.500M972 42.500h15.500" stroke="#000" stroke-width="1.300" fill="none"/>
<path d="M995 42.500l15-15M1003 34.500h7.500M999 38.500h11.500M995 42.500h15.500" stroke="#000" stroke-width="1.300" fill="none"/>
<text x="58.5" y="42" font-size="9.5" font-weight="500" fill="#808000" font-family="'Liberation Sans','Noto Sans CJK SC',sans-serif">金</text>
<text x="81.5" y="42" font-size="9.5" font-weight="500" fill="#808000" font-family="'Liberation Sans','Noto Sans CJK SC',sans-serif">金</text>
<text x="105.5" y="42.5" font-size="10.5" font-weight="400" fill="#000" font-family="'Liberation Sans','Noto Sans CJK SC',sans-serif">F</text>
<text x="218" y="42.5" font-size="11" font-weight="400" fill="#000" font-family="'Liberation Sans','Noto Sans CJK SC',sans-serif">n</text>
<text x="225" y="38.5" font-size="7.5" font-weight="400" fill="#000" font-family="'Liberation Sans','Noto Sans CJK SC',sans-serif">2</text>
<text x="357" y="43" font-size="11" font-weight="700" fill="#ff0000" font-family="'Liberation Sans','Noto Sans CJK SC',sans-serif">神</text>
<text x="379.5" y="43" font-size="11" font-weight="700" fill="#ff0000" font-family="'Liberation Sans','Noto Sans CJK SC',sans-serif">赢</text>
<text x="768" y="39.5" font-size="10.5" font-weight="700" fill="#808000" font-family="'Liberation Sans','Noto Sans CJK SC',sans-serif">金</text>
<text x="788" y="41" font-size="10" font-weight="700" fill="#808000" font-family="'Liberation Sans','Noto Sans CJK SC',sans-serif">金</text>
<text x="860" y="41" font-size="11" font-weight="700" fill="#808000" font-family="'Liberation Sans','Noto Sans CJK SC',sans-serif">金</text>
<text x="880" y="36" font-size="10.5" font-weight="700" fill="#ff0000" font-family="'Liberation Sans','Noto Sans CJK SC',sans-serif">J</text>
<text x="903" y="36.5" font-size="11.5" font-weight="700" fill="#ff0000" font-family="'Liberation Sans','Noto Sans CJK SC',sans-serif">F</text>
<text x="926" y="37.5" font-size="10" font-weight="700" fill="#808000" font-family="'Liberation Sans','Noto Sans CJK SC',sans-serif">金</text>
<text x="949" y="38" font-size="10.5" font-weight="700" fill="#ff0000" font-family="'Liberation Sans','Noto Sans CJK SC',sans-serif">神</text>
<text x="971.5" y="38.5" font-size="11.5" font-weight="700" fill="#ff0000" font-family="'Liberation Sans','Noto Sans CJK SC',sans-serif">赢</text>
<text x="995" y="37" font-size="10.5" font-weight="700" fill="#ff0000" font-family="'Liberation Sans','Noto Sans CJK SC',sans-serif">四</text>
<g transform="translate(9,26) scale(1)">
<polygon points="8.9,4.1 15.1,7.9 14.8,11.8 8.3,13.9 5,11.8" fill="#a8a8a8" stroke="#000" stroke-width="0.9"/>
<polygon points="8.9,4.1 11.2,0.8 14.8,2 15.1,7.9 12.4,5.9" fill="#ff0000"/>
<polygon points="5,11.8 8.3,13.9 3.8,15.7" fill="#ff0000"/>
<polyline points="11.2,0.8 8.9,4.1 5,11.8 3.8,15.7" fill="none" stroke="#000" stroke-width="1"/>
<polyline points="-0.1,13 3.2,16.4 4.7,15" fill="none" stroke="#000" stroke-width="1.1"/>
</g>
<g transform="translate(149,26) scale(0.8)">
<polygon points="8.9,4.1 15.1,7.9 14.8,11.8 8.3,13.9 5,11.8" fill="#a8a8a8" stroke="#000" stroke-width="0.9"/>
<polygon points="8.9,4.1 11.2,0.8 14.8,2 15.1,7.9 12.4,5.9" fill="#ff0000"/>
<polygon points="5,11.8 8.3,13.9 3.8,15.7" fill="#ff0000"/>
<polyline points="11.2,0.8 8.9,4.1 5,11.8 3.8,15.7" fill="none" stroke="#000" stroke-width="1"/>
<polyline points="-0.1,13 3.2,16.4 4.7,15" fill="none" stroke="#000" stroke-width="1.1"/>
</g>
<g transform="translate(815.5,27) scale(0.85)">
<polygon points="8.9,4.1 15.1,7.9 14.8,11.8 8.3,13.9 5,11.8" fill="#a8a8a8" stroke="#000" stroke-width="0.9"/>
<polygon points="8.9,4.1 11.2,0.8 14.8,2 15.1,7.9 12.4,5.9" fill="#ff0000"/>
<polygon points="5,11.8 8.3,13.9 3.8,15.7" fill="#ff0000"/>
<polyline points="11.2,0.8 8.9,4.1 5,11.8 3.8,15.7" fill="none" stroke="#000" stroke-width="1"/>
<polyline points="-0.1,13 3.2,16.4 4.7,15" fill="none" stroke="#000" stroke-width="1.1"/>
</g>
</g>
</svg>
</body></html>
